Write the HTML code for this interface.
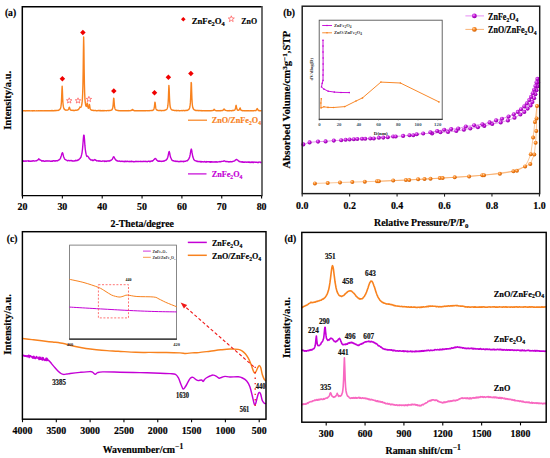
<!DOCTYPE html>
<html><head><meta charset="utf-8"><style>
html,body{margin:0;padding:0;background:#fff;width:550px;height:458px;overflow:hidden}
svg{display:block}
text{font-family:"Liberation Serif",serif;stroke-width:0.18px}
</style></head><body>
<svg width="550" height="458" viewBox="0 0 550 458">
<defs>
<radialGradient id="gp" cx="0.38" cy="0.35" r="0.7"><stop offset="0" stop-color="#F2A8FA"/><stop offset="0.45" stop-color="#C010D8"/><stop offset="1" stop-color="#8A009E"/></radialGradient>
<radialGradient id="go" cx="0.38" cy="0.35" r="0.7"><stop offset="0" stop-color="#FFD6A8"/><stop offset="0.45" stop-color="#F8841E"/><stop offset="1" stop-color="#C85A00"/></radialGradient>
</defs>
<path d="M22.9,110.71 L23.15,110.8 L23.4,110.75 L23.65,110.82 L23.9,110.82 L24.15,110.66 L24.4,110.64 L24.65,110.89 L24.9,110.71 L25.15,110.71 L25.4,110.93 L25.65,110.78 L25.9,110.89 L26.15,110.78 L26.4,110.83 L26.65,110.68 L26.9,110.82 L27.15,110.89 L27.4,110.79 L27.65,110.86 L27.9,110.83 L28.15,110.65 L28.4,110.86 L28.65,110.81 L28.9,110.72 L29.15,110.64 L29.4,110.89 L29.65,110.77 L29.9,110.85 L30.15,110.9 L30.4,110.85 L30.65,110.91 L30.9,110.75 L31.15,110.87 L31.4,110.76 L31.65,110.91 L31.9,110.89 L32.15,110.66 L32.4,110.67 L32.65,110.69 L32.9,110.92 L33.15,110.76 L33.4,110.82 L33.65,110.72 L33.9,110.78 L34.15,110.74 L34.4,110.73 L34.65,110.8 L34.9,110.8 L35.15,110.9 L35.4,110.83 L35.65,110.9 L35.9,110.88 L36.15,110.92 L36.4,110.83 L36.65,110.67 L36.9,110.88 L37.15,110.91 L37.4,110.89 L37.65,110.79 L37.9,110.84 L38.15,110.68 L38.4,110.87 L38.65,110.79 L38.9,110.71 L39.15,110.64 L39.4,110.88 L39.65,110.92 L39.9,110.64 L40.15,110.86 L40.4,110.74 L40.65,110.66 L40.9,110.7 L41.15,110.85 L41.4,110.88 L41.65,110.63 L41.9,110.8 L42.15,110.63 L42.4,110.83 L42.65,110.71 L42.9,110.88 L43.15,110.9 L43.4,110.76 L43.65,110.91 L43.9,110.7 L44.15,110.63 L44.4,110.79 L44.65,110.61 L44.9,110.66 L45.15,110.73 L45.4,110.78 L45.65,110.65 L45.9,110.61 L46.15,110.86 L46.4,110.69 L46.65,110.88 L46.9,110.86 L47.15,110.71 L47.4,110.73 L47.65,110.75 L47.9,110.78 L48.15,110.77 L48.4,110.75 L48.65,110.77 L48.9,110.86 L49.15,110.73 L49.4,110.71 L49.65,110.79 L49.9,110.64 L50.15,110.66 L50.4,110.86 L50.65,110.72 L50.9,110.73 L51.15,110.56 L51.4,110.68 L51.65,110.73 L51.9,110.55 L52.15,110.73 L52.4,110.73 L52.65,110.55 L52.9,110.72 L53.15,110.66 L53.4,110.72 L53.65,110.62 L53.9,110.72 L54.15,110.72 L54.4,110.5 L54.65,110.5 L54.9,110.67 L55.15,110.75 L55.4,110.52 L55.65,110.57 L55.9,110.6 L56.15,110.5 L56.4,110.49 L56.65,110.46 L56.9,110.45 L57.15,110.49 L57.4,110.37 L57.65,110.35 L57.9,110.43 L58.15,110.15 L58.4,110.25 L58.65,110.23 L58.9,110.01 L59.15,109.86 L59.4,109.89 L59.65,109.53 L59.9,109.26 L60.15,109 L60.4,108.59 L60.65,107.71 L60.9,106.71 L61.15,104.99 L61.4,102.27 L61.65,97.31 L61.9,90.54 L62.15,86.12 L62.4,90.34 L62.65,97.32 L62.9,102.24 L63.15,104.99 L63.4,106.64 L63.65,107.68 L63.9,108.49 L64.15,108.87 L64.4,109.39 L64.65,109.64 L64.9,109.62 L65.15,109.79 L65.4,110.05 L65.65,110.08 L65.9,110.19 L66.15,110.09 L66.4,110.06 L66.65,110.12 L66.9,110.27 L67.15,110.1 L67.4,110.09 L67.65,110.04 L67.9,109.93 L68.15,109.75 L68.4,109.61 L68.65,108.9 L68.9,108.1 L69.15,107.52 L69.4,107.3 L69.65,108.05 L69.9,108.75 L70.15,109.5 L70.4,109.86 L70.65,109.88 L70.9,110.18 L71.15,110.31 L71.4,110.32 L71.65,110.33 L71.9,110.29 L72.15,110.33 L72.4,110.31 L72.65,110.28 L72.9,110.44 L73.15,110.35 L73.4,110.51 L73.65,110.27 L73.9,110.53 L74.15,110.46 L74.4,110.51 L74.65,110.49 L74.9,110.48 L75.15,110.36 L75.4,110.17 L75.65,110.37 L75.9,110.17 L76.15,110.18 L76.4,110.25 L76.65,110.16 L76.9,110.08 L77.15,110.18 L77.4,110.01 L77.65,109.84 L77.9,109.71 L78.15,109.76 L78.4,109.48 L78.65,109.35 L78.9,108.92 L79.15,108.48 L79.4,108.07 L79.65,107.63 L79.9,107.1 L80.15,107.26 L80.4,107.41 L80.65,107.41 L80.9,107.26 L81.15,106.65 L81.4,106.24 L81.65,105.4 L81.9,103.82 L82.15,101.9 L82.4,98.83 L82.65,93.98 L82.9,85.68 L83.15,71.72 L83.4,51.4 L83.65,37 L83.9,47.88 L84.15,68.73 L84.4,83.81 L84.65,92.77 L84.9,98.36 L85.15,101.6 L85.4,103.46 L85.65,104.96 L85.9,105.79 L86.15,106.29 L86.4,106.42 L86.65,106.1 L86.9,104.85 L87.15,103.03 L87.4,103.4 L87.65,105.6 L87.9,107.02 L88.15,107.88 L88.4,108.18 L88.65,107.95 L88.9,107.2 L89.15,105.79 L89.4,104.36 L89.65,105.4 L89.9,107.37 L90.15,108.46 L90.4,109.24 L90.65,109.57 L90.9,109.75 L91.15,109.9 L91.4,110.05 L91.65,110.2 L91.9,110.18 L92.15,110.32 L92.4,110.3 L92.65,110.27 L92.9,110.39 L93.15,110.47 L93.4,110.31 L93.65,110.43 L93.9,110.45 L94.15,110.61 L94.4,110.64 L94.65,110.49 L94.9,110.66 L95.15,110.64 L95.4,110.49 L95.65,110.56 L95.9,110.47 L96.15,110.68 L96.4,110.64 L96.65,110.72 L96.9,110.7 L97.15,110.67 L97.4,110.69 L97.65,110.65 L97.9,110.51 L98.15,110.66 L98.4,110.49 L98.65,110.54 L98.9,110.73 L99.15,110.52 L99.4,110.54 L99.65,110.54 L99.9,110.78 L100.15,110.57 L100.4,110.53 L100.65,110.77 L100.9,110.56 L101.15,110.78 L101.4,110.73 L101.65,110.78 L101.9,110.82 L102.15,110.7 L102.4,110.77 L102.65,110.54 L102.9,110.76 L103.15,110.69 L103.4,110.75 L103.65,110.57 L103.9,110.76 L104.15,110.81 L104.4,110.55 L104.65,110.63 L104.9,110.7 L105.15,110.78 L105.4,110.6 L105.65,110.58 L105.9,110.6 L106.15,110.7 L106.4,110.74 L106.65,110.63 L106.9,110.62 L107.15,110.62 L107.4,110.6 L107.65,110.61 L107.9,110.51 L108.15,110.62 L108.4,110.75 L108.65,110.57 L108.9,110.66 L109.15,110.46 L109.4,110.6 L109.65,110.6 L109.9,110.54 L110.15,110.46 L110.4,110.41 L110.65,110.4 L110.9,110.41 L111.15,110.1 L111.4,109.96 L111.65,110 L111.9,109.83 L112.15,109.4 L112.4,108.9 L112.65,108.25 L112.9,106.87 L113.15,104.82 L113.4,101.52 L113.65,98.26 L113.9,98.53 L114.15,102.08 L114.4,105.33 L114.65,107.33 L114.9,108.26 L115.15,109.07 L115.4,109.43 L115.65,109.86 L115.9,109.99 L116.15,110.04 L116.4,110.14 L116.65,110.17 L116.9,110.37 L117.15,110.4 L117.4,110.38 L117.65,110.47 L117.9,110.49 L118.15,110.65 L118.4,110.48 L118.65,110.75 L118.9,110.61 L119.15,110.66 L119.4,110.63 L119.65,110.75 L119.9,110.76 L120.15,110.69 L120.4,110.67 L120.65,110.75 L120.9,110.8 L121.15,110.67 L121.4,110.77 L121.65,110.84 L121.9,110.7 L122.15,110.63 L122.4,110.63 L122.65,110.78 L122.9,110.77 L123.15,110.86 L123.4,110.83 L123.65,110.65 L123.9,110.63 L124.15,110.66 L124.4,110.64 L124.65,110.79 L124.9,110.84 L125.15,110.85 L125.4,110.66 L125.65,110.84 L125.9,110.68 L126.15,110.71 L126.4,110.8 L126.65,110.61 L126.9,110.61 L127.15,110.83 L127.4,110.67 L127.65,110.69 L127.9,110.75 L128.15,110.78 L128.4,110.58 L128.65,110.67 L128.9,110.7 L129.15,110.71 L129.4,110.62 L129.65,110.72 L129.9,110.82 L130.15,110.64 L130.4,110.67 L130.65,110.51 L130.9,110.52 L131.15,110.58 L131.4,110.32 L131.65,110.4 L131.9,110.17 L132.15,109.57 L132.4,109.52 L132.65,109.42 L132.9,109.9 L133.15,110.21 L133.4,110.28 L133.65,110.52 L133.9,110.6 L134.15,110.69 L134.4,110.57 L134.65,110.74 L134.9,110.82 L135.15,110.75 L135.4,110.72 L135.65,110.6 L135.9,110.72 L136.15,110.68 L136.4,110.8 L136.65,110.79 L136.9,110.76 L137.15,110.64 L137.4,110.79 L137.65,110.78 L137.9,110.65 L138.15,110.86 L138.4,110.79 L138.65,110.64 L138.9,110.88 L139.15,110.64 L139.4,110.7 L139.65,110.82 L139.9,110.78 L140.15,110.77 L140.4,110.8 L140.65,110.74 L140.9,110.69 L141.15,110.65 L141.4,110.62 L141.65,110.82 L141.9,110.83 L142.15,110.76 L142.4,110.82 L142.65,110.71 L142.9,110.68 L143.15,110.71 L143.4,110.86 L143.65,110.61 L143.9,110.75 L144.15,110.67 L144.4,110.82 L144.65,110.7 L144.9,110.69 L145.15,110.71 L145.4,110.75 L145.65,110.82 L145.9,110.69 L146.15,110.84 L146.4,110.61 L146.65,110.66 L146.9,110.6 L147.15,110.61 L147.4,110.8 L147.65,110.78 L147.9,110.62 L148.15,110.61 L148.4,110.68 L148.65,110.77 L148.9,110.79 L149.15,110.76 L149.4,110.71 L149.65,110.56 L149.9,110.63 L150.15,110.56 L150.4,110.64 L150.65,110.64 L150.9,110.51 L151.15,110.51 L151.4,110.64 L151.65,110.39 L151.9,110.58 L152.15,110.56 L152.4,110.51 L152.65,110.26 L152.9,110.2 L153.15,110.06 L153.4,109.86 L153.65,109.64 L153.9,109.05 L154.15,108.1 L154.4,106.85 L154.65,104.49 L154.9,102.26 L155.15,102.61 L155.4,104.82 L155.65,107.14 L155.9,108.39 L156.15,109.09 L156.4,109.56 L156.65,109.84 L156.9,109.96 L157.15,110.2 L157.4,110.15 L157.65,110.36 L157.9,110.46 L158.15,110.44 L158.4,110.51 L158.65,110.65 L158.9,110.65 L159.15,110.44 L159.4,110.65 L159.65,110.61 L159.9,110.44 L160.15,110.54 L160.4,110.51 L160.65,110.46 L160.9,110.6 L161.15,110.71 L161.4,110.53 L161.65,110.69 L161.9,110.63 L162.15,110.45 L162.4,110.66 L162.65,110.57 L162.9,110.66 L163.15,110.58 L163.4,110.57 L163.65,110.43 L163.9,110.54 L164.15,110.55 L164.4,110.49 L164.65,110.32 L164.9,110.37 L165.15,110.23 L165.4,110.04 L165.65,109.93 L165.9,109.83 L166.15,109.72 L166.4,109.52 L166.65,109.38 L166.9,109.1 L167.15,108.59 L167.4,107.88 L167.65,106.93 L167.9,105.2 L168.15,102.55 L168.4,98.06 L168.65,91.04 L168.9,85.36 L169.15,88.39 L169.4,95.59 L169.65,101.01 L169.9,104.33 L170.15,106.35 L170.4,107.59 L170.65,108.27 L170.9,108.73 L171.15,109.18 L171.4,109.62 L171.65,109.64 L171.9,109.89 L172.15,109.94 L172.4,110.04 L172.65,110.11 L172.9,110.24 L173.15,110.23 L173.4,110.23 L173.65,110.3 L173.9,110.35 L174.15,110.47 L174.4,110.37 L174.65,110.38 L174.9,110.52 L175.15,110.53 L175.4,110.63 L175.65,110.45 L175.9,110.56 L176.15,110.57 L176.4,110.47 L176.65,110.76 L176.9,110.54 L177.15,110.51 L177.4,110.63 L177.65,110.54 L177.9,110.68 L178.15,110.6 L178.4,110.54 L178.65,110.52 L178.9,110.72 L179.15,110.59 L179.4,110.74 L179.65,110.65 L179.9,110.79 L180.15,110.6 L180.4,110.58 L180.65,110.58 L180.9,110.75 L181.15,110.69 L181.4,110.6 L181.65,110.52 L181.9,110.7 L182.15,110.78 L182.4,110.66 L182.65,110.48 L182.9,110.48 L183.15,110.49 L183.4,110.51 L183.65,110.46 L183.9,110.46 L184.15,110.63 L184.4,110.69 L184.65,110.47 L184.9,110.68 L185.15,110.52 L185.4,110.6 L185.65,110.61 L185.9,110.59 L186.15,110.29 L186.4,110.33 L186.65,110.39 L186.9,110.44 L187.15,110.13 L187.4,110.12 L187.65,110.21 L187.9,109.89 L188.15,109.85 L188.4,109.67 L188.65,109.58 L188.9,109.39 L189.15,108.81 L189.4,108.48 L189.65,107.78 L189.9,106.75 L190.15,105.01 L190.4,102.4 L190.65,97.62 L190.9,90.26 L191.15,82.42 L191.4,83.04 L191.65,90.98 L191.9,98.07 L192.15,102.46 L192.4,105.24 L192.65,106.79 L192.9,107.84 L193.15,108.43 L193.4,108.94 L193.65,109.19 L193.9,109.61 L194.15,109.6 L194.4,109.89 L194.65,110.1 L194.9,110.17 L195.15,110.08 L195.4,110.19 L195.65,110.43 L195.9,110.41 L196.15,110.52 L196.4,110.56 L196.65,110.46 L196.9,110.62 L197.15,110.59 L197.4,110.5 L197.65,110.52 L197.9,110.45 L198.15,110.56 L198.4,110.74 L198.65,110.5 L198.9,110.65 L199.15,110.52 L199.4,110.52 L199.65,110.7 L199.9,110.58 L200.15,110.53 L200.4,110.57 L200.65,110.72 L200.9,110.71 L201.15,110.54 L201.4,110.61 L201.65,110.84 L201.9,110.62 L202.15,110.72 L202.4,110.68 L202.65,110.8 L202.9,110.75 L203.15,110.8 L203.4,110.73 L203.65,110.63 L203.9,110.63 L204.15,110.6 L204.4,110.82 L204.65,110.61 L204.9,110.59 L205.15,110.87 L205.4,110.64 L205.65,110.85 L205.9,110.61 L206.15,110.72 L206.4,110.65 L206.65,110.84 L206.9,110.77 L207.15,110.78 L207.4,110.82 L207.65,110.85 L207.9,110.69 L208.15,110.77 L208.4,110.72 L208.65,110.62 L208.9,110.83 L209.15,110.76 L209.4,110.82 L209.65,110.64 L209.9,110.74 L210.15,110.71 L210.4,110.78 L210.65,110.58 L210.9,110.66 L211.15,110.69 L211.4,110.55 L211.65,110.68 L211.9,110.72 L212.15,110.6 L212.4,110.63 L212.65,110.57 L212.9,110.38 L213.15,110.31 L213.4,110.33 L213.65,109.89 L213.9,109.62 L214.15,109.34 L214.4,109.5 L214.65,109.77 L214.9,110.26 L215.15,110.39 L215.4,110.55 L215.65,110.67 L215.9,110.61 L216.15,110.74 L216.4,110.65 L216.65,110.64 L216.9,110.81 L217.15,110.81 L217.4,110.83 L217.65,110.7 L217.9,110.79 L218.15,110.68 L218.4,110.86 L218.65,110.84 L218.9,110.65 L219.15,110.84 L219.4,110.62 L219.65,110.59 L219.9,110.77 L220.15,110.64 L220.4,110.7 L220.65,110.73 L220.9,110.54 L221.15,110.74 L221.4,110.58 L221.65,110.61 L221.9,110.56 L222.15,110.64 L222.4,110.59 L222.65,110.38 L222.9,110.21 L223.15,110.11 L223.4,109.89 L223.65,109.43 L223.9,109.05 L224.15,109.04 L224.4,109.24 L224.65,109.73 L224.9,110.08 L225.15,110.29 L225.4,110.3 L225.65,110.34 L225.9,110.46 L226.15,110.56 L226.4,110.61 L226.65,110.64 L226.9,110.61 L227.15,110.77 L227.4,110.61 L227.65,110.68 L227.9,110.81 L228.15,110.79 L228.4,110.64 L228.65,110.63 L228.9,110.8 L229.15,110.56 L229.4,110.6 L229.65,110.72 L229.9,110.72 L230.15,110.61 L230.4,110.57 L230.65,110.61 L230.9,110.78 L231.15,110.68 L231.4,110.83 L231.65,110.76 L231.9,110.81 L232.15,110.52 L232.4,110.55 L232.65,110.48 L232.9,110.58 L233.15,110.53 L233.4,110.41 L233.65,110.51 L233.9,110.31 L234.15,110.3 L234.4,110.16 L234.65,110.15 L234.9,109.77 L235.15,109.29 L235.4,108.5 L235.65,107.41 L235.9,105.9 L236.15,105.34 L236.4,106.64 L236.65,108.09 L236.9,108.89 L237.15,109.42 L237.4,109.94 L237.65,110.15 L237.9,110.18 L238.15,110.34 L238.4,110.28 L238.65,110.17 L238.9,110.06 L239.15,109.84 L239.4,109.7 L239.65,109.17 L239.9,108.32 L240.15,107.93 L240.4,108.76 L240.65,109.62 L240.9,110.05 L241.15,110.25 L241.4,110.35 L241.65,110.48 L241.9,110.44 L242.15,110.49 L242.4,110.68 L242.65,110.79 L242.9,110.68 L243.15,110.65 L243.4,110.65 L243.65,110.69 L243.9,110.8 L244.15,110.7 L244.4,110.86 L244.65,110.63 L244.9,110.68 L245.15,110.75 L245.4,110.72 L245.65,110.85 L245.9,110.85 L246.15,110.88 L246.4,110.79 L246.65,110.61 L246.9,110.78 L247.15,110.77 L247.4,110.75 L247.65,110.69 L247.9,110.82 L248.15,110.88 L248.4,110.64 L248.65,110.81 L248.9,110.72 L249.15,110.77 L249.4,110.88 L249.65,110.9 L249.9,110.81 L250.15,110.67 L250.4,110.89 L250.65,110.66 L250.9,110.72 L251.15,110.86 L251.4,110.7 L251.65,110.69 L251.9,110.89 L252.15,110.88 L252.4,110.69 L252.65,110.71 L252.9,110.68 L253.15,110.63 L253.4,110.66 L253.65,110.87 L253.9,110.59 L254.15,110.62 L254.4,110.6 L254.65,110.55 L254.9,110.66 L255.15,110.69 L255.4,110.67 L255.65,110.54 L255.9,110.5 L256.15,110.11 L256.4,109.95 L256.65,109.76 L256.9,108.94 L257.15,108.55 L257.4,108.77 L257.65,109.27 L257.9,109.85 L258.15,110.01 L258.4,110.26 L258.65,110.6 L258.9,110.43 L259.15,110.72 L259.4,110.54 L259.65,110.81 L259.9,110.74 L260.15,110.75 L260.4,110.61 L260.65,110.59 L260.9,110.81 L261.15,110.64 L261.4,110.65" fill="none" stroke="#F8821E" stroke-width="1.4" stroke-linejoin="round" stroke-linecap="round" />
<path d="M22.9,161.26 L23.3,161.29 L23.7,160.8 L24.1,161.34 L24.5,161.09 L24.9,161 L25.3,160.83 L25.7,161 L26.1,161.36 L26.5,160.94 L26.9,160.85 L27.3,160.85 L27.7,160.84 L28.1,160.98 L28.5,161.31 L28.9,160.81 L29.3,160.88 L29.7,161.32 L30.1,161.35 L30.5,161.34 L30.9,160.9 L31.3,160.96 L31.7,161.31 L32.1,161.03 L32.5,161.15 L32.9,160.91 L33.3,160.72 L33.7,160.9 L34.1,161.12 L34.5,161.12 L34.9,160.96 L35.3,160.86 L35.7,160.85 L36.1,160.72 L36.5,160.67 L36.9,160.7 L37.3,160.1 L37.7,160.01 L38.1,159.78 L38.5,159.28 L38.9,158.72 L39.3,159.47 L39.7,159.86 L40.1,159.87 L40.5,160.22 L40.9,160.38 L41.3,160.42 L41.7,161.07 L42.1,160.79 L42.5,161.12 L42.9,160.7 L43.3,160.67 L43.7,161.2 L44.1,161.17 L44.5,161.31 L44.9,161.13 L45.3,161.04 L45.7,161.19 L46.1,160.8 L46.5,161.07 L46.9,161.01 L47.3,160.84 L47.7,161.11 L48.1,160.94 L48.5,161.05 L48.9,160.97 L49.3,160.93 L49.7,160.95 L50.1,161.1 L50.5,161.32 L50.9,161.28 L51.3,161.23 L51.7,161.21 L52.1,160.87 L52.5,161.27 L52.9,160.84 L53.3,160.73 L53.7,160.94 L54.1,161.06 L54.5,160.8 L54.9,160.96 L55.3,160.71 L55.7,161.08 L56.1,160.73 L56.5,160.69 L56.9,160.66 L57.3,160.78 L57.7,160.75 L58.1,160.35 L58.5,160.14 L58.9,160.03 L59.3,159.42 L59.7,159.26 L60.1,159 L60.5,158.23 L60.9,156.79 L61.3,155.93 L61.7,154.09 L62.1,153.21 L62.5,152.67 L62.9,153.62 L63.3,155.36 L63.7,156.97 L64.1,157.79 L64.5,158.83 L64.9,159.3 L65.3,159.49 L65.7,159.75 L66.1,160.09 L66.5,160.19 L66.9,160.3 L67.3,160.57 L67.7,160.78 L68.1,160.67 L68.5,160.46 L68.9,160.54 L69.3,160.66 L69.7,160.83 L70.1,160.56 L70.5,160.54 L70.9,160.69 L71.3,160.68 L71.7,160.52 L72.1,160.83 L72.5,161.05 L72.9,160.8 L73.3,160.91 L73.7,160.95 L74.1,160.93 L74.5,160.94 L74.9,160.63 L75.3,160.73 L75.7,160.34 L76.1,160.74 L76.5,160.37 L76.9,160.35 L77.3,160.5 L77.7,160.02 L78.1,159.82 L78.5,160.03 L78.9,159.68 L79.3,159.1 L79.7,158.72 L80.1,158.47 L80.5,157.68 L80.9,157.39 L81.3,155.91 L81.7,154.42 L82.1,152.26 L82.5,149.1 L82.9,144.53 L83.3,139.22 L83.7,135.14 L84.1,135.37 L84.5,139.62 L84.9,145.43 L85.3,149.48 L85.7,152.04 L86.1,154.18 L86.5,155.59 L86.9,156.44 L87.3,156.22 L87.7,156.28 L88.1,156.68 L88.5,157.02 L88.9,157.92 L89.3,158.54 L89.7,158.8 L90.1,159.28 L90.5,159.7 L90.9,160.11 L91.3,159.88 L91.7,160.12 L92.1,160.03 L92.5,160.42 L92.9,160.06 L93.3,160.58 L93.7,160.24 L94.1,160.11 L94.5,159.61 L94.9,159.56 L95.3,159.78 L95.7,160.27 L96.1,160.36 L96.5,160.42 L96.9,160.99 L97.3,160.9 L97.7,160.9 L98.1,160.76 L98.5,160.87 L98.9,161.26 L99.3,160.83 L99.7,161.1 L100.1,161.17 L100.5,161.03 L100.9,161.29 L101.3,161.39 L101.7,161.37 L102.1,161.3 L102.5,160.99 L102.9,160.91 L103.3,161.14 L103.7,161.07 L104.1,161 L104.5,161.4 L104.9,161.01 L105.3,161.37 L105.7,161.43 L106.1,160.94 L106.5,161.4 L106.9,161.08 L107.3,160.95 L107.7,160.92 L108.1,160.8 L108.5,161.04 L108.9,160.93 L109.3,161.16 L109.7,161.08 L110.1,160.52 L110.5,160.6 L110.9,160.43 L111.3,160.08 L111.7,159.8 L112.1,159.36 L112.5,159.01 L112.9,158.02 L113.3,157.09 L113.7,156.73 L114.1,157.12 L114.5,157.93 L114.9,158.55 L115.3,159.5 L115.7,159.7 L116.1,160.33 L116.5,160.55 L116.9,160.48 L117.3,160.96 L117.7,160.86 L118.1,161.03 L118.5,161.13 L118.9,161.2 L119.3,161.13 L119.7,160.93 L120.1,161.4 L120.5,161.47 L120.9,161.27 L121.3,161.34 L121.7,161.18 L122.1,161.57 L122.5,161.45 L122.9,161.19 L123.3,161.56 L123.7,161.67 L124.1,161.29 L124.5,161.69 L124.9,161.39 L125.3,161.22 L125.7,161.55 L126.1,161.32 L126.5,161.57 L126.9,161.48 L127.3,161.2 L127.7,161.46 L128.1,161.66 L128.5,161.44 L128.9,161.48 L129.3,161.68 L129.7,161.43 L130.1,161.46 L130.5,161.52 L130.9,161.67 L131.3,161.3 L131.7,161.24 L132.1,161.64 L132.5,161.52 L132.9,161.37 L133.3,161.73 L133.7,161.73 L134.1,161.52 L134.5,161.79 L134.9,161.71 L135.3,161.65 L135.7,161.38 L136.1,161.22 L136.5,161.62 L136.9,161.65 L137.3,161.43 L137.7,161.5 L138.1,161.56 L138.5,161.37 L138.9,161.64 L139.3,161.56 L139.7,161.45 L140.1,161.29 L140.5,161.56 L140.9,161.42 L141.3,161.66 L141.7,161.33 L142.1,161.46 L142.5,161.34 L142.9,161.47 L143.3,161.57 L143.7,161.29 L144.1,161.25 L144.5,161.51 L144.9,161.34 L145.3,161.51 L145.7,161.31 L146.1,161.26 L146.5,161.52 L146.9,161.74 L147.3,161.7 L147.7,161.48 L148.1,161.4 L148.5,161.19 L148.9,161.3 L149.3,161.3 L149.7,161.65 L150.1,161.13 L150.5,161.59 L150.9,161.26 L151.3,161.17 L151.7,160.99 L152.1,161.31 L152.5,160.7 L152.9,160.74 L153.3,160.43 L153.7,159.87 L154.1,159.38 L154.5,159.23 L154.9,158.6 L155.3,158.43 L155.7,158.89 L156.1,158.99 L156.5,159.91 L156.9,160.38 L157.3,160.37 L157.7,160.73 L158.1,161.2 L158.5,160.93 L158.9,161.27 L159.3,160.97 L159.7,161.31 L160.1,161.1 L160.5,161.26 L160.9,161.18 L161.3,161.48 L161.7,161.4 L162.1,161.24 L162.5,161.32 L162.9,161.14 L163.3,161.32 L163.7,160.93 L164.1,161.03 L164.5,160.96 L164.9,160.72 L165.3,160.35 L165.7,160.21 L166.1,160.2 L166.5,159.55 L166.9,159.32 L167.3,158.36 L167.7,157.48 L168.1,155.83 L168.5,153.81 L168.9,151.96 L169.3,151.55 L169.7,153.25 L170.1,155.33 L170.5,157.14 L170.9,157.97 L171.3,158.82 L171.7,159.93 L172.1,160.22 L172.5,160.38 L172.9,160.77 L173.3,160.6 L173.7,160.97 L174.1,161.16 L174.5,161.21 L174.9,161.01 L175.3,161.05 L175.7,161.39 L176.1,161.59 L176.5,161.17 L176.9,161.12 L177.3,161.19 L177.7,161.63 L178.1,161.41 L178.5,161.46 L178.9,161.79 L179.3,161.57 L179.7,161.36 L180.1,161.63 L180.5,161.21 L180.9,161.37 L181.3,161.62 L181.7,161.29 L182.1,161.2 L182.5,161.48 L182.9,161.35 L183.3,161.71 L183.7,161.16 L184.1,161.55 L184.5,161.26 L184.9,161.46 L185.3,161.18 L185.7,161.24 L186.1,160.94 L186.5,160.77 L186.9,160.76 L187.3,160.77 L187.7,160.25 L188.1,159.85 L188.5,159.51 L188.9,158.68 L189.3,157.91 L189.7,156.77 L190.1,154.93 L190.5,152.61 L190.9,150.13 L191.3,149.07 L191.7,150.33 L192.1,152.91 L192.5,155.11 L192.9,157.06 L193.3,158.1 L193.7,159.25 L194.1,159.76 L194.5,160.23 L194.9,160.6 L195.3,160.72 L195.7,160.85 L196.1,160.93 L196.5,160.9 L196.9,161.44 L197.3,161.34 L197.7,161.17 L198.1,161.72 L198.5,161.56 L198.9,161.63 L199.3,161.55 L199.7,161.4 L200.1,161.95 L200.5,161.47 L200.9,161.61 L201.3,162.01 L201.7,161.5 L202.1,161.75 L202.5,161.75 L202.9,161.62 L203.3,162.04 L203.7,161.75 L204.1,161.51 L204.5,161.8 L204.9,161.53 L205.3,161.96 L205.7,162.06 L206.1,162.09 L206.5,161.58 L206.9,161.97 L207.3,161.75 L207.7,161.86 L208.1,161.76 L208.5,161.77 L208.9,161.67 L209.3,161.97 L209.7,161.65 L210.1,162.18 L210.5,161.63 L210.9,162.19 L211.3,161.73 L211.7,161.66 L212.1,162.06 L212.5,161.94 L212.9,162.08 L213.3,161.93 L213.7,162 L214.1,161.67 L214.5,162.03 L214.9,161.93 L215.3,162.2 L215.7,161.62 L216.1,161.66 L216.5,162.02 L216.9,162.17 L217.3,161.86 L217.7,162.03 L218.1,161.93 L218.5,161.81 L218.9,161.84 L219.3,161.91 L219.7,161.54 L220.1,161.68 L220.5,161.9 L220.9,161.56 L221.3,161.63 L221.7,161.41 L222.1,161.37 L222.5,161.41 L222.9,161.32 L223.3,161.33 L223.7,160.98 L224.1,160.86 L224.5,161.05 L224.9,161.02 L225.3,161.26 L225.7,161.58 L226.1,161.68 L226.5,161.53 L226.9,161.54 L227.3,161.53 L227.7,161.6 L228.1,161.81 L228.5,161.68 L228.9,162.06 L229.3,161.87 L229.7,161.73 L230.1,161.77 L230.5,161.52 L230.9,161.91 L231.3,161.9 L231.7,161.62 L232.1,161.79 L232.5,161.46 L232.9,161.34 L233.3,161.24 L233.7,161.08 L234.1,161.15 L234.5,160.95 L234.9,160.71 L235.3,160.01 L235.7,160.06 L236.1,159.61 L236.5,159.45 L236.9,159.64 L237.3,159.88 L237.7,160.1 L238.1,160.55 L238.5,160.99 L238.9,161.27 L239.3,161.57 L239.7,161.29 L240.1,161.82 L240.5,161.85 L240.9,161.87 L241.3,162.09 L241.7,161.64 L242.1,162.06 L242.5,162.17 L242.9,161.73 L243.3,162.04 L243.7,162.27 L244.1,161.9 L244.5,162.25 L244.9,162.3 L245.3,162.03 L245.7,161.87 L246.1,161.92 L246.5,162.3 L246.9,162.07 L247.3,162.01 L247.7,162.09 L248.1,162.39 L248.5,161.99 L248.9,161.86 L249.3,162.42 L249.7,162.05 L250.1,162.1 L250.5,162.46 L250.9,162.05 L251.3,161.93 L251.7,162.42 L252.1,162.04 L252.5,162.03 L252.9,162.46 L253.3,162.04 L253.7,162.45 L254.1,162.11 L254.5,162.1 L254.9,162.05 L255.3,162.25 L255.7,162.26 L256.1,162.17 L256.5,162.24 L256.9,162.11 L257.3,162.44 L257.7,162.5 L258.1,162.4 L258.5,162.44 L258.9,161.99 L259.3,162.1 L259.7,162.08 L260.1,162.05 L260.5,162.54 L260.9,162.51 L261.3,162.52" fill="none" stroke="#C400D6" stroke-width="1.4" stroke-linejoin="round" stroke-linecap="round" />
<path d="M62.4,75.95 L65.15,78.7 L62.4,81.45 L59.65,78.7 Z" fill="#F00000"/>
<path d="M82.9,29.65 L85.65,32.4 L82.9,35.15 L80.15,32.4 Z" fill="#F00000"/>
<path d="M113.8,88.25 L116.55,91 L113.8,93.75 L111.05,91 Z" fill="#F00000"/>
<path d="M154.5,89.95 L157.25,92.7 L154.5,95.45 L151.75,92.7 Z" fill="#F00000"/>
<path d="M168.4,74.55 L171.15,77.3 L168.4,80.05 L165.65,77.3 Z" fill="#F00000"/>
<path d="M190.9,70.65 L193.65,73.4 L190.9,76.15 L188.15,73.4 Z" fill="#F00000"/>
<path d="M69.2,97.8 L69.92,99.71 L71.96,99.8 L70.36,101.08 L70.9,103.05 L69.2,101.92 L67.5,103.05 L68.04,101.08 L66.44,99.8 L68.48,99.71 Z" fill="none" stroke="#FF5A5A" stroke-width="0.75"/>
<path d="M78,97.8 L78.72,99.71 L80.76,99.8 L79.16,101.08 L79.7,103.05 L78,101.92 L76.3,103.05 L76.84,101.08 L75.24,99.8 L77.28,99.71 Z" fill="none" stroke="#FF5A5A" stroke-width="0.75"/>
<path d="M88.9,96.4 L89.62,98.31 L91.66,98.4 L90.06,99.68 L90.6,101.65 L88.9,100.52 L87.2,101.65 L87.74,99.68 L86.14,98.4 L88.18,98.31 Z" fill="none" stroke="#FF5A5A" stroke-width="0.75"/>
<path d="M183.3,16.9 L185.6,19.2 L183.3,21.5 L181,19.2 Z" fill="#F00000"/>
<text x="191.7" y="23.8" font-size="9" text-anchor="start" fill="#000" font-weight="bold" textLength="33.1" lengthAdjust="spacingAndGlyphs"  stroke="#000">ZnFe<tspan dy="2.6" font-size="6.6">2</tspan><tspan dy="-2.6">O</tspan><tspan dy="2.6" font-size="6.6">4</tspan></text>
<path d="M231.3,15.8 L232.09,17.91 L234.34,18.01 L232.58,19.42 L233.18,21.59 L231.3,20.34 L229.42,21.59 L230.02,19.42 L228.26,18.01 L230.51,17.91 Z" fill="none" stroke="#FF5A5A" stroke-width="0.75"/>
<text x="241.3" y="24.1" font-size="9" text-anchor="start" fill="#000" font-weight="bold" textLength="15.8" lengthAdjust="spacingAndGlyphs"  stroke="#000">ZnO</text>
<line x1="188" y1="120.2" x2="207" y2="120.2" stroke="#F8821E" stroke-width="1.2" />
<text x="211.7" y="123.3" font-size="8.2" text-anchor="start" fill="#F8821E" font-weight="bold"  stroke="#F8821E">ZnO/ZnFe<tspan dy="1.8" font-size="5.6">2</tspan><tspan dy="-1.8">O</tspan><tspan dy="1.8" font-size="5.6">4</tspan></text>
<line x1="188" y1="173.9" x2="206.5" y2="173.9" stroke="#C400D6" stroke-width="1.2" />
<text x="211.7" y="176.7" font-size="8.2" text-anchor="start" fill="#C400D6" font-weight="bold"  stroke="#C400D6">ZnFe<tspan dy="1.8" font-size="5.6">2</tspan><tspan dy="-1.8">O</tspan><tspan dy="1.8" font-size="5.6">4</tspan></text>
<line x1="22.3" y1="6.7" x2="262" y2="6.7" stroke="#000" stroke-width="1.45" />
<line x1="22.3" y1="195.6" x2="262" y2="195.6" stroke="#000" stroke-width="1.45" />
<line x1="22.3" y1="6" x2="22.3" y2="196.3" stroke="#000" stroke-width="1.5" />
<line x1="262" y1="6" x2="262" y2="196.3" stroke="#4a4a4a" stroke-width="1.6" />
<line x1="22.5" y1="195.6" x2="22.5" y2="198.6" stroke="#000" stroke-width="1.1" />
<text x="22.5" y="210.3" font-size="10.7" text-anchor="middle" fill="#000" font-weight="bold" textLength="9.9" lengthAdjust="spacingAndGlyphs"  stroke="#000">20</text>
<line x1="62.35" y1="195.6" x2="62.35" y2="198.6" stroke="#000" stroke-width="1.1" />
<text x="62.35" y="210.3" font-size="10.7" text-anchor="middle" fill="#000" font-weight="bold" textLength="9.9" lengthAdjust="spacingAndGlyphs"  stroke="#000">30</text>
<line x1="102.2" y1="195.6" x2="102.2" y2="198.6" stroke="#000" stroke-width="1.1" />
<text x="102.2" y="210.3" font-size="10.7" text-anchor="middle" fill="#000" font-weight="bold" textLength="9.9" lengthAdjust="spacingAndGlyphs"  stroke="#000">40</text>
<line x1="142.05" y1="195.6" x2="142.05" y2="198.6" stroke="#000" stroke-width="1.1" />
<text x="142.05" y="210.3" font-size="10.7" text-anchor="middle" fill="#000" font-weight="bold" textLength="9.9" lengthAdjust="spacingAndGlyphs"  stroke="#000">50</text>
<line x1="181.9" y1="195.6" x2="181.9" y2="198.6" stroke="#000" stroke-width="1.1" />
<text x="181.9" y="210.3" font-size="10.7" text-anchor="middle" fill="#000" font-weight="bold" textLength="9.9" lengthAdjust="spacingAndGlyphs"  stroke="#000">60</text>
<line x1="221.75" y1="195.6" x2="221.75" y2="198.6" stroke="#000" stroke-width="1.1" />
<text x="221.75" y="210.3" font-size="10.7" text-anchor="middle" fill="#000" font-weight="bold" textLength="9.9" lengthAdjust="spacingAndGlyphs"  stroke="#000">70</text>
<line x1="261.6" y1="195.6" x2="261.6" y2="198.6" stroke="#000" stroke-width="1.1" />
<text x="261.6" y="210.3" font-size="10.7" text-anchor="middle" fill="#000" font-weight="bold" textLength="9.9" lengthAdjust="spacingAndGlyphs"  stroke="#000">80</text>
<text x="142.2" y="227.4" font-size="9.9" text-anchor="middle" fill="#000" font-weight="bold" textLength="63.4" lengthAdjust="spacingAndGlyphs"  stroke="#000">2-Theta/degree</text>
<text transform="translate(10.6,100.3) rotate(-90)" font-size="10" text-anchor="middle" font-weight="bold" textLength="59" lengthAdjust="spacingAndGlyphs" stroke="#000">Intensity/a.u.</text>
<text x="10.5" y="16.3" font-size="9.6" text-anchor="middle" fill="#000" font-weight="bold"  stroke="#000">(a)</text>
<path d="M303.3,144.4 L309.6,142.4 L318,141.6 L325.6,141.4 L333.8,140.6 L341.2,140.3 L345.6,139.7 L349.6,139.5 L353.8,139.2 L357.3,139 L362,138.8 L365.2,138.8 L370.3,138.5 L373.8,138.5 L378.9,137.8 L383.3,137.6 L387.8,137.2 L393.2,136.5 L395.7,136.5 L403.1,135.9 L409.5,135.3 L413.3,135.3 L416.7,134.3 L423.2,133.5 L432.1,133.5 L440.4,132.3 L448,131.9 L456.3,131 L463.9,129.7 L470.3,128.5 L477.9,127.2 L484.3,125.9 L492.2,124 L500.7,122.4 L507.9,120.4 L514.5,117.8 L520.4,114.5 L524.3,111.9 L527.6,108.6 L530.6,105.4 L532.4,102.1 L534.1,98.2 L535.4,94.2 L536.5,90.3 L537.4,86.4 L538.1,82.4 L537.4,78.9" fill="none" stroke="#D050E0" stroke-width="0.6" stroke-linejoin="round" stroke-linecap="round" />
<path d="M537.4,78.9 L536.5,82.4 L535.4,86 L534.1,89.7 L532.8,93.3 L531.1,96.9 L529.3,100.1 L526.9,103.4 L524.3,106.4 L521,109.3 L517.8,111.9 L513.8,114.3 L508.6,116.5 L502,118.7 L496.1,120.4 L489.6,122.4 L482.4,124.3 L474.1,125.3 L465.8,126.5 L458.2,128.5 L451.2,129.1 L444.2,129.7 L437.2,131 L430.4,132.3" fill="none" stroke="#D050E0" stroke-width="0.6" stroke-linejoin="round" stroke-linecap="round" />
<circle cx="303.3" cy="144.4" r="2.05" fill="url(#gp)"/>
<circle cx="309.6" cy="142.4" r="2.05" fill="url(#gp)"/>
<circle cx="318" cy="141.6" r="2.05" fill="url(#gp)"/>
<circle cx="325.6" cy="141.4" r="2.05" fill="url(#gp)"/>
<circle cx="333.8" cy="140.6" r="2.05" fill="url(#gp)"/>
<circle cx="341.2" cy="140.3" r="2.05" fill="url(#gp)"/>
<circle cx="345.6" cy="139.7" r="2.05" fill="url(#gp)"/>
<circle cx="349.6" cy="139.5" r="2.05" fill="url(#gp)"/>
<circle cx="353.8" cy="139.2" r="2.05" fill="url(#gp)"/>
<circle cx="357.3" cy="139" r="2.05" fill="url(#gp)"/>
<circle cx="362" cy="138.8" r="2.05" fill="url(#gp)"/>
<circle cx="365.2" cy="138.8" r="2.05" fill="url(#gp)"/>
<circle cx="370.3" cy="138.5" r="2.05" fill="url(#gp)"/>
<circle cx="373.8" cy="138.5" r="2.05" fill="url(#gp)"/>
<circle cx="378.9" cy="137.8" r="2.05" fill="url(#gp)"/>
<circle cx="383.3" cy="137.6" r="2.05" fill="url(#gp)"/>
<circle cx="387.8" cy="137.2" r="2.05" fill="url(#gp)"/>
<circle cx="393.2" cy="136.5" r="2.05" fill="url(#gp)"/>
<circle cx="395.7" cy="136.5" r="2.05" fill="url(#gp)"/>
<circle cx="403.1" cy="135.9" r="2.05" fill="url(#gp)"/>
<circle cx="409.5" cy="135.3" r="2.05" fill="url(#gp)"/>
<circle cx="413.3" cy="135.3" r="2.05" fill="url(#gp)"/>
<circle cx="416.7" cy="134.3" r="2.05" fill="url(#gp)"/>
<circle cx="423.2" cy="133.5" r="2.05" fill="url(#gp)"/>
<circle cx="432.1" cy="133.5" r="2.05" fill="url(#gp)"/>
<circle cx="440.4" cy="132.3" r="2.05" fill="url(#gp)"/>
<circle cx="448" cy="131.9" r="2.05" fill="url(#gp)"/>
<circle cx="456.3" cy="131" r="2.05" fill="url(#gp)"/>
<circle cx="463.9" cy="129.7" r="2.05" fill="url(#gp)"/>
<circle cx="470.3" cy="128.5" r="2.05" fill="url(#gp)"/>
<circle cx="477.9" cy="127.2" r="2.05" fill="url(#gp)"/>
<circle cx="484.3" cy="125.9" r="2.05" fill="url(#gp)"/>
<circle cx="492.2" cy="124" r="2.05" fill="url(#gp)"/>
<circle cx="500.7" cy="122.4" r="2.05" fill="url(#gp)"/>
<circle cx="507.9" cy="120.4" r="2.05" fill="url(#gp)"/>
<circle cx="514.5" cy="117.8" r="2.05" fill="url(#gp)"/>
<circle cx="520.4" cy="114.5" r="2.05" fill="url(#gp)"/>
<circle cx="524.3" cy="111.9" r="2.05" fill="url(#gp)"/>
<circle cx="527.6" cy="108.6" r="2.05" fill="url(#gp)"/>
<circle cx="530.6" cy="105.4" r="2.05" fill="url(#gp)"/>
<circle cx="532.4" cy="102.1" r="2.05" fill="url(#gp)"/>
<circle cx="534.1" cy="98.2" r="2.05" fill="url(#gp)"/>
<circle cx="535.4" cy="94.2" r="2.05" fill="url(#gp)"/>
<circle cx="536.5" cy="90.3" r="2.05" fill="url(#gp)"/>
<circle cx="537.4" cy="86.4" r="2.05" fill="url(#gp)"/>
<circle cx="538.1" cy="82.4" r="2.05" fill="url(#gp)"/>
<circle cx="537.4" cy="78.9" r="2.05" fill="url(#gp)"/>
<circle cx="536.5" cy="82.4" r="2.05" fill="url(#gp)"/>
<circle cx="535.4" cy="86" r="2.05" fill="url(#gp)"/>
<circle cx="534.1" cy="89.7" r="2.05" fill="url(#gp)"/>
<circle cx="532.8" cy="93.3" r="2.05" fill="url(#gp)"/>
<circle cx="531.1" cy="96.9" r="2.05" fill="url(#gp)"/>
<circle cx="529.3" cy="100.1" r="2.05" fill="url(#gp)"/>
<circle cx="526.9" cy="103.4" r="2.05" fill="url(#gp)"/>
<circle cx="524.3" cy="106.4" r="2.05" fill="url(#gp)"/>
<circle cx="521" cy="109.3" r="2.05" fill="url(#gp)"/>
<circle cx="517.8" cy="111.9" r="2.05" fill="url(#gp)"/>
<circle cx="513.8" cy="114.3" r="2.05" fill="url(#gp)"/>
<circle cx="508.6" cy="116.5" r="2.05" fill="url(#gp)"/>
<circle cx="502" cy="118.7" r="2.05" fill="url(#gp)"/>
<circle cx="496.1" cy="120.4" r="2.05" fill="url(#gp)"/>
<circle cx="489.6" cy="122.4" r="2.05" fill="url(#gp)"/>
<circle cx="482.4" cy="124.3" r="2.05" fill="url(#gp)"/>
<circle cx="474.1" cy="125.3" r="2.05" fill="url(#gp)"/>
<circle cx="465.8" cy="126.5" r="2.05" fill="url(#gp)"/>
<circle cx="458.2" cy="128.5" r="2.05" fill="url(#gp)"/>
<circle cx="451.2" cy="129.1" r="2.05" fill="url(#gp)"/>
<circle cx="444.2" cy="129.7" r="2.05" fill="url(#gp)"/>
<circle cx="437.2" cy="131" r="2.05" fill="url(#gp)"/>
<circle cx="430.4" cy="132.3" r="2.05" fill="url(#gp)"/>
<path d="M314.9,183.4 L327.7,183 L340,182.5 L352.3,182.1 L364.8,181.7 L377,181.3 L393.2,180.5 L405.9,180 L418.1,179.3 L424.5,179 L430.5,178.7 L439.8,178.1 L454.7,177.3 L469.1,176.5 L482.3,175.2 L499.9,173.8 L513.4,171.3 L525.1,166.4 L530.3,164 L534.3,154.5 L535.6,142.8 L536.3,131.1 L536.6,118.4 L537,106.1" fill="none" stroke="#F8A050" stroke-width="0.6" stroke-linejoin="round" stroke-linecap="round" />
<path d="M537,106.1 L534.9,121.9 L533.1,137.6 L530.8,154.2 L528,161 L525.1,166.4 L516.9,170.8 L484,175.2 L442.6,178.1 L409.2,180 L378.9,181.3" fill="none" stroke="#F8A050" stroke-width="0.6" stroke-linejoin="round" stroke-linecap="round" />
<circle cx="314.9" cy="183.4" r="2" fill="url(#go)"/>
<circle cx="327.7" cy="183" r="2" fill="url(#go)"/>
<circle cx="340" cy="182.5" r="2" fill="url(#go)"/>
<circle cx="352.3" cy="182.1" r="2" fill="url(#go)"/>
<circle cx="364.8" cy="181.7" r="2" fill="url(#go)"/>
<circle cx="377" cy="181.3" r="2" fill="url(#go)"/>
<circle cx="393.2" cy="180.5" r="2" fill="url(#go)"/>
<circle cx="405.9" cy="180" r="2" fill="url(#go)"/>
<circle cx="418.1" cy="179.3" r="2" fill="url(#go)"/>
<circle cx="424.5" cy="179" r="2" fill="url(#go)"/>
<circle cx="430.5" cy="178.7" r="2" fill="url(#go)"/>
<circle cx="439.8" cy="178.1" r="2" fill="url(#go)"/>
<circle cx="454.7" cy="177.3" r="2" fill="url(#go)"/>
<circle cx="469.1" cy="176.5" r="2" fill="url(#go)"/>
<circle cx="482.3" cy="175.2" r="2" fill="url(#go)"/>
<circle cx="499.9" cy="173.8" r="2" fill="url(#go)"/>
<circle cx="513.4" cy="171.3" r="2" fill="url(#go)"/>
<circle cx="525.1" cy="166.4" r="2" fill="url(#go)"/>
<circle cx="530.3" cy="164" r="2" fill="url(#go)"/>
<circle cx="534.3" cy="154.5" r="2" fill="url(#go)"/>
<circle cx="535.6" cy="142.8" r="2" fill="url(#go)"/>
<circle cx="536.3" cy="131.1" r="2" fill="url(#go)"/>
<circle cx="536.6" cy="118.4" r="2" fill="url(#go)"/>
<circle cx="537" cy="106.1" r="2" fill="url(#go)"/>
<circle cx="534.9" cy="121.9" r="2" fill="url(#go)"/>
<circle cx="533.1" cy="137.6" r="2" fill="url(#go)"/>
<circle cx="530.8" cy="154.2" r="2" fill="url(#go)"/>
<circle cx="516.9" cy="170.8" r="2" fill="url(#go)"/>
<circle cx="484" cy="175.2" r="2" fill="url(#go)"/>
<circle cx="442.6" cy="178.1" r="2" fill="url(#go)"/>
<circle cx="409.2" cy="180" r="2" fill="url(#go)"/>
<circle cx="378.9" cy="181.3" r="2" fill="url(#go)"/>
<rect x="319.2" y="20.2" width="123.0" height="99.2" fill="#fff" stroke="#555" stroke-width="0.9"/>
<line x1="318.8" y1="119.4" x2="442.6" y2="119.4" stroke="#333" stroke-width="1.2" />
<line x1="319.4" y1="119.4" x2="319.4" y2="120.6" stroke="#555" stroke-width="0.5" />
<text x="319.4" y="126.0" font-size="4.8" text-anchor="middle" fill="#3a5468" font-weight="bold">0</text>
<line x1="339.12" y1="119.4" x2="339.12" y2="120.6" stroke="#555" stroke-width="0.5" />
<text x="339.12" y="126.0" font-size="4.8" text-anchor="middle" fill="#3a5468" font-weight="bold">20</text>
<line x1="358.84" y1="119.4" x2="358.84" y2="120.6" stroke="#555" stroke-width="0.5" />
<text x="358.84" y="126.0" font-size="4.8" text-anchor="middle" fill="#3a5468" font-weight="bold">40</text>
<line x1="378.56" y1="119.4" x2="378.56" y2="120.6" stroke="#555" stroke-width="0.5" />
<text x="378.56" y="126.0" font-size="4.8" text-anchor="middle" fill="#3a5468" font-weight="bold">60</text>
<line x1="398.28" y1="119.4" x2="398.28" y2="120.6" stroke="#555" stroke-width="0.5" />
<text x="398.28" y="126.0" font-size="4.8" text-anchor="middle" fill="#3a5468" font-weight="bold">80</text>
<line x1="418" y1="119.4" x2="418" y2="120.6" stroke="#555" stroke-width="0.5" />
<text x="418" y="126.0" font-size="4.8" text-anchor="middle" fill="#3a5468" font-weight="bold">100</text>
<line x1="437.72" y1="119.4" x2="437.72" y2="120.6" stroke="#555" stroke-width="0.5" />
<text x="437.72" y="126.0" font-size="4.8" text-anchor="middle" fill="#3a5468" font-weight="bold">120</text>
<text x="380.8" y="135.3" font-size="5" text-anchor="middle" fill="#222" font-weight="bold">D(nm)</text>
<text transform="translate(313.4,69.2) rotate(-90)" font-size="4.6" text-anchor="middle" fill="#222" font-weight="bold" textLength="22.6" lengthAdjust="spacingAndGlyphs">dV/dlog(D)</text>
<path d="M323,40.2 L323,50 L323.1,60 L323.1,70 L323,80.4 L322.2,83.2 L321.5,87 L323.9,89.1 L328.2,91.2 L334.3,92.1 L341,92.5 L349.2,92.6" fill="none" stroke="#C400D6" stroke-width="0.95" stroke-linejoin="round" stroke-linecap="round" />
<circle cx="323" cy="40.2" r="0.8" fill="#C400D6"/>
<circle cx="323" cy="46" r="0.8" fill="#C400D6"/>
<circle cx="323" cy="52" r="0.8" fill="#C400D6"/>
<circle cx="323.1" cy="58" r="0.8" fill="#C400D6"/>
<circle cx="323.1" cy="64" r="0.8" fill="#C400D6"/>
<circle cx="323.1" cy="70" r="0.8" fill="#C400D6"/>
<circle cx="323" cy="75" r="0.8" fill="#C400D6"/>
<circle cx="323" cy="80.4" r="0.8" fill="#C400D6"/>
<circle cx="322.2" cy="83.2" r="0.8" fill="#C400D6"/>
<circle cx="321.5" cy="87" r="0.8" fill="#C400D6"/>
<circle cx="323.9" cy="89.1" r="0.8" fill="#C400D6"/>
<circle cx="328.2" cy="91.2" r="0.8" fill="#C400D6"/>
<circle cx="334.3" cy="92.1" r="0.8" fill="#C400D6"/>
<circle cx="341" cy="92.5" r="0.8" fill="#C400D6"/>
<circle cx="349.2" cy="92.6" r="0.8" fill="#C400D6"/>
<path d="M321.3,98.8 L320.9,103 L321,107.9 L323.9,106.8 L328,107.4 L333.5,107.5 L344.8,106.6 L356,101 L362.5,97.9 L380.9,82.1 L400.4,83 L438.9,101.9" fill="none" stroke="#F8821E" stroke-width="0.95" stroke-linejoin="round" stroke-linecap="round" />
<circle cx="321.3" cy="98.8" r="0.8" fill="#F8821E"/>
<circle cx="320.9" cy="103" r="0.8" fill="#F8821E"/>
<circle cx="321" cy="107.9" r="0.8" fill="#F8821E"/>
<circle cx="323.9" cy="106.8" r="0.8" fill="#F8821E"/>
<circle cx="328" cy="107.4" r="0.8" fill="#F8821E"/>
<circle cx="333.5" cy="107.5" r="0.8" fill="#F8821E"/>
<circle cx="344.8" cy="106.6" r="0.8" fill="#F8821E"/>
<circle cx="356" cy="101" r="0.8" fill="#F8821E"/>
<circle cx="362.5" cy="97.9" r="0.8" fill="#F8821E"/>
<circle cx="380.9" cy="82.1" r="0.8" fill="#F8821E"/>
<circle cx="400.4" cy="83" r="0.8" fill="#F8821E"/>
<circle cx="438.9" cy="101.9" r="0.8" fill="#F8821E"/>
<line x1="322.2" y1="25.5" x2="332" y2="25.5" stroke="#C400D6" stroke-width="0.9" />
<circle cx="327" cy="25.5" r="0.8" fill="#C400D6"/>
<line x1="322.2" y1="32.8" x2="332" y2="32.8" stroke="#F8821E" stroke-width="0.9" />
<circle cx="327" cy="32.8" r="0.8" fill="#F8821E"/>
<text x="334" y="27.1" font-size="4.6" fill="#333" font-weight="bold">ZnFe<tspan dy="1" font-size="3.4">2</tspan><tspan dy="-1">O</tspan><tspan dy="1" font-size="3.4">4</tspan></text>
<text x="334" y="34.4" font-size="4.6" fill="#333" font-weight="bold">ZnO/ZnFe<tspan dy="1" font-size="3.4">2</tspan><tspan dy="-1">O</tspan><tspan dy="1" font-size="3.4">4</tspan></text>
<line x1="465.4" y1="15.9" x2="484" y2="15.9" stroke="#E070F0" stroke-width="0.8" />
<circle cx="474.4" cy="15.9" r="2.35" fill="url(#gp)"/>
<line x1="465.4" y1="29.4" x2="484" y2="29.4" stroke="#F8A050" stroke-width="0.8" />
<circle cx="474.4" cy="29.4" r="2.35" fill="url(#go)"/>
<text x="488.1" y="19.7" font-size="9.4" text-anchor="start" fill="#000" font-weight="bold" textLength="30.3" lengthAdjust="spacingAndGlyphs"  stroke="#000">ZnFe<tspan dy="2.2" font-size="6.6">2</tspan><tspan dy="-2.2">O</tspan><tspan dy="2.2" font-size="6.6">4</tspan></text>
<text x="488.1" y="32.8" font-size="9.4" text-anchor="start" fill="#000" font-weight="bold" textLength="48.4" lengthAdjust="spacingAndGlyphs"  stroke="#000">ZnO/ZnFe<tspan dy="2.2" font-size="6.6">2</tspan><tspan dy="-2.2">O</tspan><tspan dy="2.2" font-size="6.6">4</tspan></text>
<rect x="302.2" y="6.2" width="237.5" height="187.4" fill="none" stroke="#1a1a1a" stroke-width="1.45" />
<line x1="302.2" y1="193.6" x2="302.2" y2="196.6" stroke="#222" stroke-width="1.1" />
<text x="302.2" y="208.6" font-size="10.5" text-anchor="middle" fill="#000" font-weight="bold" textLength="12.4" lengthAdjust="spacingAndGlyphs"  stroke="#000">0.0</text>
<line x1="349.64" y1="193.6" x2="349.64" y2="196.6" stroke="#222" stroke-width="1.1" />
<text x="349.64" y="208.6" font-size="10.5" text-anchor="middle" fill="#000" font-weight="bold" textLength="12.4" lengthAdjust="spacingAndGlyphs"  stroke="#000">0.2</text>
<line x1="397.08" y1="193.6" x2="397.08" y2="196.6" stroke="#222" stroke-width="1.1" />
<text x="397.08" y="208.6" font-size="10.5" text-anchor="middle" fill="#000" font-weight="bold" textLength="12.4" lengthAdjust="spacingAndGlyphs"  stroke="#000">0.4</text>
<line x1="444.52" y1="193.6" x2="444.52" y2="196.6" stroke="#222" stroke-width="1.1" />
<text x="444.52" y="208.6" font-size="10.5" text-anchor="middle" fill="#000" font-weight="bold" textLength="12.4" lengthAdjust="spacingAndGlyphs"  stroke="#000">0.6</text>
<line x1="491.96" y1="193.6" x2="491.96" y2="196.6" stroke="#222" stroke-width="1.1" />
<text x="491.96" y="208.6" font-size="10.5" text-anchor="middle" fill="#000" font-weight="bold" textLength="12.4" lengthAdjust="spacingAndGlyphs"  stroke="#000">0.8</text>
<line x1="539.4" y1="193.6" x2="539.4" y2="196.6" stroke="#222" stroke-width="1.1" />
<text x="539.4" y="208.6" font-size="10.5" text-anchor="middle" fill="#000" font-weight="bold" textLength="12.4" lengthAdjust="spacingAndGlyphs"  stroke="#000">1.0</text>
<text x="374" y="225.7" font-size="9.9" text-anchor="start" fill="#000" font-weight="bold"  stroke="#000">Relative Pressure/P/P<tspan dy="2.2" font-size="6.8">0</tspan></text>
<text transform="translate(290.1,99.65) rotate(-90)" font-size="10.2" text-anchor="middle" font-weight="bold" textLength="137.7" lengthAdjust="spacingAndGlyphs" stroke="#000">Absorbed Volume/cm<tspan dy="-3" font-size="6.8">3</tspan><tspan dy="3">g</tspan><tspan dy="-3" font-size="6.8">&#8722;1</tspan><tspan dy="3">,STP</tspan></text>
<text x="289.2" y="16.3" font-size="9.6" text-anchor="middle" fill="#000" font-weight="bold"  stroke="#000">(b)</text>
<path d="M22.6,338.5 C24.17,338.68 28.8,339.23 32,339.6 C35.2,339.97 38.35,340.3 41.8,340.7 C45.25,341.1 49.07,341.53 52.7,342 C56.33,342.47 60.72,342.97 63.6,343.5 C66.48,344.03 67.82,344.65 70,345.2 C72.18,345.75 74.03,346.25 76.7,346.8 C79.37,347.35 82.72,348.02 86,348.5 C89.28,348.98 92.9,349.35 96.4,349.7 C99.9,350.05 103.37,350.35 107,350.6 C110.63,350.85 113.43,350.92 118.2,351.2 C122.97,351.48 130.3,352.1 135.6,352.3 C140.9,352.5 144.87,352.37 150,352.4 C155.13,352.43 161.4,352.42 166.4,352.5 C171.4,352.58 176.78,352.75 180,352.9 C183.22,353.05 183.7,353.4 185.7,353.4 C187.7,353.4 189.82,353.03 192,352.9 C194.18,352.77 195.8,352.88 198.8,352.6 C201.8,352.32 206.32,351.67 210,351.2 C213.68,350.73 217.57,350.17 220.9,349.8 C224.23,349.43 227.12,349.07 230,349 C232.88,348.93 236.2,349.1 238.2,349.4 C240.2,349.7 240.82,350.07 242,350.8 C243.18,351.53 244.25,352.57 245.3,353.8 C246.35,355.03 247.35,356.47 248.3,358.2 C249.25,359.93 250.18,362.13 251,364.2 C251.82,366.27 252.58,369.13 253.2,370.6 C253.82,372.07 254.18,372.93 254.7,373 C255.22,373.07 255.75,371.97 256.3,371 C256.85,370.03 257.47,368.1 258,367.2 C258.53,366.3 259.03,365.5 259.5,365.6 C259.97,365.7 260.33,366.32 260.8,367.8 C261.27,369.28 261.77,372.67 262.3,374.5 C262.83,376.33 263.48,377.8 264,378.8 C264.52,379.8 265.17,380.22 265.4,380.5" fill="none" stroke="#F8821E" stroke-width="1.45" stroke-linejoin="round" stroke-linecap="round" />
<path d="M22.6,355.55 L22.9,355.24 L23.2,355.54 L23.5,355.29 L23.8,356.02 L24.1,355.56 L24.4,355.63 L24.7,356.2 L25,355.66 L25.3,356.28 L25.6,355.84 L25.9,356.18 L26.2,355.78 L26.5,356.46 L26.8,356.11 L27.1,355.81 L27.4,356.72 L27.7,356.6 L28,355.69 L28.3,355.39 L28.6,356.7 L28.9,355.21 L29.2,357.63 L29.5,356.2 L29.8,355.76 L30.1,356.25 L30.4,355.7 L30.7,356.32 L31,357 L31.3,356.67 L31.6,356.52 L31.9,356.45 L32.2,357.04 L32.5,357.91 L32.8,357.01 L33.1,357.98 L33.4,357.23 L33.7,356.26 L34,356.45 L34.3,358.4 L34.6,357.42 L34.9,357.2 L35.2,357.62 L35.5,358.59 L35.8,357.32 L36.1,357.34 L36.4,357.4 L36.7,356.45 L37,358 L37.3,357.86 L37.6,357.96 L37.9,357.88 L38.2,357.99 L38.5,358.72 L38.8,357.29 L39.1,359.56 L39.4,357.19 L39.7,359.34 L40,357.46 L40.3,359.24 L40.6,357.79 L40.9,357.33 L41.2,358.68 L41.5,359.56 L41.8,359.63 L42.1,359.77 L42.4,360.1 L42.7,357.56 L43,358.52 L43.3,357.81 L43.6,359.67 L43.9,358.87 L44.2,359.74 L44.5,359.93 L44.8,360.55 L45.1,359.7 L45.4,360.3 L45.7,359.44 L46,358.18 L46.3,360.5 L46.6,358.31 L46.9,358.34 L47.2,360.48 L47.5,358.99 L47.5,359.6 C47.83,359.87 48.83,360.53 49.5,361.2 C50.17,361.87 50.58,362.5 51.5,363.6 C52.42,364.7 53.88,366.53 55,367.8 C56.12,369.07 57.2,370.25 58.2,371.2 C59.2,372.15 60.12,372.97 61,373.5 C61.88,374.03 62.5,374.32 63.5,374.4 C64.5,374.48 65.88,374.15 67,374 C68.12,373.85 68.03,373.77 70.2,373.5 C72.37,373.23 76.73,372.72 80,372.4 C83.27,372.08 87.72,371.63 89.8,371.6 C91.88,371.57 91.58,371.75 92.5,372.2 C93.42,372.65 94.45,374.23 95.3,374.3 C96.15,374.37 96.33,373 97.6,372.6 C98.87,372.2 99.17,371.97 102.9,371.9 C106.63,371.83 113.82,372.08 120,372.2 C126.18,372.32 133.33,372.42 140,372.6 C146.67,372.78 155,373.13 160,373.3 C165,373.47 167.42,373.43 170,373.6 C172.58,373.77 174.08,373.57 175.5,374.3 C176.92,375.03 177.58,376.3 178.5,378 C179.42,379.7 180.22,382.67 181,384.5 C181.78,386.33 182.45,388.67 183.2,389 C183.95,389.33 184.67,387.73 185.5,386.5 C186.33,385.27 187.4,382.98 188.2,381.6 C189,380.22 189.5,378.9 190.3,378.2 C191.1,377.5 192.05,377.17 193,377.4 C193.95,377.63 195.13,379.07 196,379.6 C196.87,380.13 197.28,380.53 198.2,380.6 C199.12,380.67 200.67,379.87 201.5,380 C202.33,380.13 202.7,381.48 203.2,381.4 C203.7,381.32 204,380.07 204.5,379.5 C205,378.93 205.28,378.58 206.2,378 C207.12,377.42 208.83,376.48 210,376 C211.17,375.52 212.12,375.05 213.2,375.1 C214.28,375.15 215.52,375.78 216.5,376.3 C217.48,376.82 218.18,378.05 219.1,378.2 C220.02,378.35 221.02,377.5 222,377.2 C222.98,376.9 223.67,376.43 225,376.4 C226.33,376.37 227.8,376.93 230,377 C232.2,377.07 236.12,376.63 238.2,376.8 C240.28,376.97 241.08,377.3 242.5,378 C243.92,378.7 245.48,379.58 246.7,381 C247.92,382.42 248.88,384.08 249.8,386.5 C250.72,388.92 251.52,392.78 252.2,395.5 C252.88,398.22 253.48,401.25 253.9,402.8 C254.32,404.35 254.38,404.73 254.7,404.8 C255.02,404.87 255.38,404.42 255.8,403.2 C256.22,401.98 256.75,399.15 257.2,397.5 C257.65,395.85 258.12,394.15 258.5,393.3 C258.88,392.45 259.13,392.25 259.5,392.4 C259.87,392.55 260.23,392.83 260.7,394.2 C261.17,395.57 261.75,399.13 262.3,400.6 C262.85,402.07 263.48,402.5 264,403 C264.52,403.5 265.17,403.5 265.4,403.6" fill="none" stroke="#C400D6" stroke-width="1.45" stroke-linejoin="round" stroke-linecap="round" />
<rect x="69.6" y="245.1" width="106.9" height="94.00000000000003" fill="#fff" stroke="#6a6a6a" stroke-width="0.8"/>
<line x1="69.2" y1="339.1" x2="176.9" y2="339.1" stroke="#222" stroke-width="1.1" />
<path d="M69.8,279.4 C72.17,279.93 79.23,281.27 84,282.6 C88.77,283.93 94.9,286 98.4,287.4 C101.9,288.8 102.78,289.72 105,291 C107.22,292.28 109.38,294.1 111.7,295.1 C114.02,296.1 117.02,296.8 118.9,297 C120.78,297.2 121.6,296.62 123,296.3 C124.4,295.98 124.98,295.07 127.3,295.1 C129.62,295.13 132.5,296.18 136.9,296.5 C141.3,296.82 150.02,296.58 153.7,297 C157.38,297.42 157,298.12 159,299 C161,299.88 162.82,301.03 165.7,302.3 C168.58,303.57 174.53,305.88 176.3,306.6" fill="none" stroke="#F8821E" stroke-width="1" stroke-linejoin="round" stroke-linecap="round" />
<path d="M69.8,307.1 C78.17,307.58 106.42,309.28 120,310 C133.58,310.72 141.92,311.08 151.3,311.4 C160.68,311.72 172.13,311.82 176.3,311.9" fill="none" stroke="#C400D6" stroke-width="1" stroke-linejoin="round" stroke-linecap="round" />
<rect x="98.4" y="284.7" width="30.1" height="33.2" fill="none" stroke="#FF5050" stroke-width="0.8" stroke-dasharray="2,1.6"/>
<text x="128.6" y="281.2" font-size="4" text-anchor="middle" font-weight="bold">440</text>
<text x="70" y="346.3" font-size="4.4" text-anchor="middle" font-weight="bold" fill="#222">460</text>
<text x="176.6" y="346.3" font-size="4.4" text-anchor="middle" font-weight="bold" fill="#222">420</text>
<line x1="143" y1="251.1" x2="150.8" y2="251.1" stroke="#C400D6" stroke-width="0.8" />
<line x1="143" y1="257.3" x2="150.8" y2="257.3" stroke="#F8821E" stroke-width="0.8" />
<text x="152.4" y="252.5" font-size="3.8" font-weight="bold" fill="#333">ZnFe<tspan dy="0.8" font-size="2.8">2</tspan><tspan dy="-0.8">O</tspan><tspan dy="0.8" font-size="2.8">4</tspan></text>
<text x="152.4" y="258.7" font-size="3.8" font-weight="bold" fill="#333">ZnO/ZnFe<tspan dy="0.8" font-size="2.8">2</tspan><tspan dy="-0.8">O</tspan><tspan dy="0.8" font-size="2.8">4</tspan></text>
<line x1="253.8" y1="366.7" x2="183" y2="304.8" stroke="#F01818" stroke-width="1.1" stroke-dasharray="3.2,2.2"/>
<path d="M180.6,302.6 L187.2,304.9 L183.9,308.4 Z" fill="#F01818"/>
<line x1="255.2" y1="366.7" x2="255.2" y2="410" stroke="#F01818" stroke-width="1.3" stroke-dasharray="1.4,4.0"/>
<text x="59.05" y="385.2" font-size="7.6" text-anchor="middle" fill="#111" font-weight="bold" textLength="13.8" lengthAdjust="spacingAndGlyphs"  stroke="#111">3385</text>
<text x="182.6" y="398.3" font-size="7.9" text-anchor="middle" fill="#111" font-weight="bold" textLength="13" lengthAdjust="spacingAndGlyphs"  stroke="#111">1630</text>
<text x="260.7" y="389.3" font-size="7.4" text-anchor="middle" fill="#111" font-weight="bold" textLength="9.8" lengthAdjust="spacingAndGlyphs"  stroke="#111">440</text>
<text x="244.5" y="412.1" font-size="7.4" text-anchor="middle" fill="#111" font-weight="bold" textLength="9.6" lengthAdjust="spacingAndGlyphs"  stroke="#111">561</text>
<line x1="187.8" y1="242.4" x2="206.8" y2="242.4" stroke="#C400D6" stroke-width="1.5" />
<line x1="187.8" y1="255.3" x2="206.8" y2="255.3" stroke="#F8821E" stroke-width="1.5" />
<text x="212" y="245.8" font-size="9.2" text-anchor="start" fill="#000" font-weight="bold" textLength="30.2" lengthAdjust="spacingAndGlyphs"  stroke="#000">ZnFe<tspan dy="2" font-size="6.4">2</tspan><tspan dy="-2">O</tspan><tspan dy="2" font-size="6.4">4</tspan></text>
<text x="212" y="258.8" font-size="9.2" text-anchor="start" fill="#000" font-weight="bold" textLength="49.2" lengthAdjust="spacingAndGlyphs"  stroke="#000">ZnO/ZnFe<tspan dy="2" font-size="6.4">2</tspan><tspan dy="-2">O</tspan><tspan dy="2" font-size="6.4">4</tspan></text>
<rect x="22.4" y="231.7" width="243.6" height="187.5" fill="none" stroke="#000" stroke-width="1.45" />
<line x1="22.5" y1="419.2" x2="22.5" y2="422.2" stroke="#000" stroke-width="1.1" />
<text x="22.5" y="433.9" font-size="10.5" text-anchor="middle" fill="#000" font-weight="bold" textLength="19.8" lengthAdjust="spacingAndGlyphs"  stroke="#000">4000</text>
<line x1="56.31" y1="419.2" x2="56.31" y2="422.2" stroke="#000" stroke-width="1.1" />
<text x="56.31" y="433.9" font-size="10.5" text-anchor="middle" fill="#000" font-weight="bold" textLength="19.8" lengthAdjust="spacingAndGlyphs"  stroke="#000">3500</text>
<line x1="90.13" y1="419.2" x2="90.13" y2="422.2" stroke="#000" stroke-width="1.1" />
<text x="90.13" y="433.9" font-size="10.5" text-anchor="middle" fill="#000" font-weight="bold" textLength="19.8" lengthAdjust="spacingAndGlyphs"  stroke="#000">3000</text>
<line x1="123.94" y1="419.2" x2="123.94" y2="422.2" stroke="#000" stroke-width="1.1" />
<text x="123.94" y="433.9" font-size="10.5" text-anchor="middle" fill="#000" font-weight="bold" textLength="19.8" lengthAdjust="spacingAndGlyphs"  stroke="#000">2500</text>
<line x1="157.76" y1="419.2" x2="157.76" y2="422.2" stroke="#000" stroke-width="1.1" />
<text x="157.76" y="433.9" font-size="10.5" text-anchor="middle" fill="#000" font-weight="bold" textLength="19.8" lengthAdjust="spacingAndGlyphs"  stroke="#000">2000</text>
<line x1="191.57" y1="419.2" x2="191.57" y2="422.2" stroke="#000" stroke-width="1.1" />
<text x="191.57" y="433.9" font-size="10.5" text-anchor="middle" fill="#000" font-weight="bold" textLength="19.8" lengthAdjust="spacingAndGlyphs"  stroke="#000">1500</text>
<line x1="225.39" y1="419.2" x2="225.39" y2="422.2" stroke="#000" stroke-width="1.1" />
<text x="225.39" y="433.9" font-size="10.5" text-anchor="middle" fill="#000" font-weight="bold" textLength="19.8" lengthAdjust="spacingAndGlyphs"  stroke="#000">1000</text>
<line x1="259.2" y1="419.2" x2="259.2" y2="422.2" stroke="#000" stroke-width="1.1" />
<text x="259.2" y="433.9" font-size="10.5" text-anchor="middle" fill="#000" font-weight="bold" textLength="14.85" lengthAdjust="spacingAndGlyphs"  stroke="#000">500</text>
<text x="102.7" y="452.9" font-size="9.9" text-anchor="start" fill="#000" font-weight="bold"  stroke="#000">Wavenumber/cm<tspan dy="-4" font-size="7.6">&#8722;1</tspan></text>
<text transform="translate(10.8,324.3) rotate(-90)" font-size="10" text-anchor="middle" font-weight="bold" textLength="60.7" lengthAdjust="spacingAndGlyphs" stroke="#000">Intensity/a.u.</text>
<text x="12.2" y="242" font-size="9.6" text-anchor="middle" fill="#000" font-weight="bold"  stroke="#000">(c)</text>
<path d="M302,307.67 L302.5,307.11 L303,306.9 L303.5,306.83 L304,306.25 L304.5,306.17 L305,306.07 L305.5,305.48 L306,305.43 L306.5,305.2 L307,304.89 L307.5,304.7 L308,304.42 L308.5,303.84 L309,303.6 L309.5,303.38 L310,303.12 L310.5,302.41 L311,302.49 L311.5,302.38 L312,302.74 L312.5,302.54 L313,302.5 L313.5,302.46 L314,302.11 L314.5,302.24 L315,302.13 L315.5,302.02 L316,301.62 L316.5,301.46 L317,301.28 L317.5,301.45 L318,301.1 L318.5,300.92 L319,300.81 L319.5,300.72 L320,300.37 L320.5,300.19 L321,300.18 L321.5,299.96 L322,299.51 L322.5,299.15 L323,299.24 L323.5,298.82 L324,298.4 L324.5,297.89 L325,297.65 L325.5,296.86 L326,296.1 L326.5,295.25 L327,294.41 L327.5,293.36 L328,291.85 L328.5,290.36 L329,288.08 L329.5,285.34 L330,282.21 L330.5,278.39 L331,274.22 L331.5,270.09 L332,266.96 L332.5,265.66 L333,266.81 L333.5,269.47 L334,273.72 L334.5,277.68 L335,281.74 L335.5,284.65 L336,287.49 L336.5,289.62 L337,291.44 L337.5,292.57 L338,293.66 L338.5,294.43 L339,295.25 L339.5,295.73 L340,295.8 L340.5,296.09 L341,296.19 L341.5,296.52 L342,296.21 L342.5,296.08 L343,295.7 L343.5,295.55 L344,295.24 L344.5,294.76 L345,294.01 L345.5,293.72 L346,293.26 L346.5,292.58 L347,292.46 L347.5,291.83 L348,291.46 L348.5,291.3 L349,291.06 L349.5,290.89 L350,291 L350.5,290.9 L351,290.97 L351.5,291.08 L352,291.62 L352.5,291.94 L353,292.49 L353.5,292.93 L354,293.34 L354.5,293.94 L355,294.59 L355.5,295.16 L356,296.08 L356.5,296.52 L357,296.88 L357.5,297.56 L358,297.94 L358.5,298.05 L359,298.64 L359.5,298.63 L360,299.11 L360.5,298.8 L361,298.85 L361.5,298.73 L362,298.81 L362.5,298.49 L363,297.99 L363.5,297.3 L364,296.8 L364.5,296.18 L365,295.03 L365.5,294.43 L366,293.28 L366.5,292.11 L367,290.68 L367.5,289.25 L368,287.96 L368.5,286.18 L369,284.79 L369.5,283.41 L370,282.32 L370.5,281.76 L371,280.96 L371.5,281.16 L372,281.32 L372.5,282.24 L373,283.21 L373.5,284.46 L374,285.97 L374.5,287.16 L375,288.82 L375.5,290.4 L376,291.91 L376.5,293.42 L377,294.81 L377.5,295.93 L378,297.09 L378.5,297.95 L379,298.66 L379.5,299.48 L380,300.24 L380.5,300.84 L381,301.15 L381.5,301.58 L382,302.07 L382.5,302.23 L383,302.81 L383.5,302.67 L384,303.17 L384.5,303.28 L385,303.32 L385.5,303.61 L386,303.67 L386.5,303.97 L387,304 L387.5,303.92 L388,304.1 L388.5,304.16 L389,303.91 L389.5,304.28 L390,304.37 L390.5,304.56 L391,304.58 L391.5,304.56 L392,304.63 L392.5,304.98 L393,304.94 L393.5,305.34 L394,305.41 L394.5,305.66 L395,305.59 L395.5,305.68 L396,306.04 L396.5,306.01 L397,305.95 L397.5,306.1 L398,306.1 L398.5,306.25 L399,306.25 L399.5,306.21 L400,306.56 L400.5,306.57 L401,306.56 L401.5,306.39 L402,306.4 L402.5,306.68 L403,306.76 L403.5,306.72 L404,306.56 L404.5,306.82 L405,306.77 L405.5,306.73 L406,306.86 L406.5,306.83 L407,306.95 L407.5,307.02 L408,307.15 L408.5,306.79 L409,307.02 L409.5,307.21 L410,307.11 L410.5,307.1 L411,307.24 L411.5,306.91 L412,307.26 L412.5,307.21 L413,307.22 L413.5,307.12 L414,307.28 L414.5,307.08 L415,307.27 L415.5,307.17 L416,307.48 L416.5,307.43 L417,307.29 L417.5,307.42 L418,307.26 L418.5,307.32 L419,307.15 L419.5,307.45 L420,307.39 L420.5,307.37 L421,307.04 L421.5,307.34 L422,306.94 L422.5,307.14 L423,307.06 L423.5,306.81 L424,306.92 L424.5,307.06 L425,306.88 L425.5,306.68 L426,306.84 L426.5,306.57 L427,306.74 L427.5,306.46 L428,306.26 L428.5,306.59 L429,306.14 L429.5,306.17 L430,306.35 L430.5,306.02 L431,306.17 L431.5,306.28 L432,306.14 L432.5,306.02 L433,306.2 L433.5,306.26 L434,306.2 L434.5,306.29 L435,306.23 L435.5,306.34 L436,306.69 L436.5,306.76 L437,306.41 L437.5,306.56 L438,306.63 L438.5,306.92 L439,306.67 L439.5,306.66 L440,306.9 L440.5,306.61 L441,306.93 L441.5,306.65 L442,306.79 L442.5,306.7 L443,306.38 L443.5,306.58 L444,306.36 L444.5,306.23 L445,306.12 L445.5,306.37 L446,306.28 L446.5,306.12 L447,306.32 L447.5,306 L448,306.06 L448.5,305.86 L449,305.94 L449.5,306.13 L450,305.92 L450.5,305.72 L451,305.72 L451.5,305.86 L452,305.67 L452.5,305.9 L453,305.51 L453.5,305.84 L454,305.71 L454.5,305.78 L455,305.57 L455.5,305.43 L456,305.48 L456.5,305.68 L457,305.43 L457.5,305.49 L458,305.82 L458.5,305.9 L459,305.95 L459.5,306 L460,305.94 L460.5,306.15 L461,306.14 L461.5,306.16 L462,306.18 L462.5,306.09 L463,306.2 L463.5,306.35 L464,306.52 L464.5,306.44 L465,306.89 L465.5,306.78 L466,306.91 L466.5,307.03 L467,306.78 L467.5,307.1 L468,307.15 L468.5,306.86 L469,306.81 L469.5,307.12 L470,307.18 L470.5,307.15 L471,306.99 L471.5,307.08 L472,306.88 L472.5,306.94 L473,307.03 L473.5,307.18 L474,306.89 L474.5,307.27 L475,306.88 L475.5,307.29 L476,306.97 L476.5,307.23 L477,307.24 L477.5,307.3 L478,307.09 L478.5,307.19 L479,307.01 L479.5,307.24 L480,306.93 L480.5,307.27 L481,307.14 L481.5,306.9 L482,307.28 L482.5,307.01 L483,306.89 L483.5,306.98 L484,306.87 L484.5,306.98 L485,307.16 L485.5,307.28 L486,307.12 L486.5,307.21 L487,307.19 L487.5,307.14 L488,306.99 L488.5,306.93 L489,306.88 L489.5,307.05 L490,306.89 L490.5,307.13 L491,306.94 L491.5,307.05 L492,307.03 L492.5,307.06 L493,306.85 L493.5,306.89 L494,307.07 L494.5,306.86 L495,307.06 L495.5,307.19 L496,306.93 L496.5,307.18 L497,307.02 L497.5,307.17 L498,306.98 L498.5,307.08 L499,307.05 L499.5,306.84 L500,306.98 L500.5,307.01 L501,306.96 L501.5,307.04 L502,307.15 L502.5,307.1 L503,307.11 L503.5,306.82 L504,307.07 L504.5,307.03 L505,307.17 L505.5,306.76 L506,306.84 L506.5,307.19 L507,306.93 L507.5,307.08 L508,307.03 L508.5,306.94 L509,306.96 L509.5,307.02 L510,307.2 L510.5,307.01 L511,307.12 L511.5,306.91 L512,307.09 L512.5,307.04 L513,307.1 L513.5,307.17 L514,306.82 L514.5,307.21 L515,307.05 L515.5,306.9 L516,306.99 L516.5,306.83 L517,306.89 L517.5,307.16 L518,307.1 L518.5,307.17 L519,306.86 L519.5,306.84 L520,306.96 L520.5,307.01 L521,307.11 L521.5,306.93 L522,307.12 L522.5,307.06 L523,306.93 L523.5,307.15 L524,306.84 L524.5,307.07 L525,306.89 L525.5,306.83 L526,307.02 L526.5,307.04 L527,307.08 L527.5,306.98 L528,307.23 L528.5,307.16 L529,306.89 L529.5,306.82 L530,307.24 L530.5,307 L531,306.87 L531.5,306.9 L532,307.14 L532.5,306.91 L533,306.99 L533.5,307.13 L534,306.99 L534.5,307.12 L535,307.25 L535.5,307.19 L536,307.11 L536.5,307.11 L537,306.98 L537.5,307.12 L538,307.13 L538.5,307.1 L539,307.06 L539.5,307.18 L540,306.94 L540.5,307.16 L541,307.28 L541.5,306.87 L542,306.96 L542.5,307.29 L543,306.89 L543.5,307.22 L544,307.11 L544.5,306.89 L545,307.14 L545.5,306.87" fill="none" stroke="#F8821E" stroke-width="1.6" stroke-linejoin="round" stroke-linecap="round" />
<path d="M302,350.2 L302.4,349.98 L302.8,350.6 L303.2,350.78 L303.6,350.43 L304,350.79 L304.4,350.75 L304.8,351.27 L305.2,350.85 L305.6,350.83 L306,350.81 L306.4,351.26 L306.8,350.73 L307.2,350.67 L307.6,350.64 L308,350.59 L308.4,350.38 L308.8,350.66 L309.2,350.14 L309.6,350.15 L310,350.33 L310.4,349.81 L310.8,349.67 L311.2,350.04 L311.6,349.56 L312,349.84 L312.4,349.66 L312.8,349.18 L313.2,348.94 L313.6,348.52 L314,348.71 L314.4,347.9 L314.8,347.03 L315.2,345.51 L315.6,342.83 L316,338.62 L316.4,335.99 L316.8,340.32 L317.2,343.61 L317.6,345.01 L318,345.59 L318.4,345.66 L318.8,345.44 L319.2,345.66 L319.6,345.41 L320,344.83 L320.4,344.18 L320.8,344.12 L321.2,343.04 L321.6,342.41 L322,342.1 L322.4,341.61 L322.8,340.71 L323.2,339.41 L323.6,338.53 L324,335.48 L324.4,331.59 L324.8,327.51 L325.2,327.34 L325.6,331.75 L326,335.18 L326.4,338.04 L326.8,339 L327.2,339.41 L327.6,340.27 L328,340.46 L328.4,339.8 L328.8,339.94 L329.2,340.03 L329.6,339.28 L330,338.84 L330.4,338.75 L330.8,338.17 L331.2,338.36 L331.6,338.31 L332,338.64 L332.4,339.02 L332.8,339.17 L333.2,339.96 L333.6,340.41 L334,340.88 L334.4,341.4 L334.8,341.5 L335.2,341.48 L335.6,341.92 L336,341.38 L336.4,340.98 L336.8,341.33 L337.2,340.73 L337.6,340.56 L338,339.9 L338.4,339.24 L338.8,338.85 L339.2,338.85 L339.6,338.38 L340,339.27 L340.4,339.76 L340.8,341.24 L341.2,341.73 L341.6,343.12 L342,343.87 L342.4,344.19 L342.8,344.58 L343.2,344.54 L343.6,344.68 L344,344.43 L344.4,344.44 L344.8,344.36 L345.2,344.67 L345.6,343.99 L346,344.13 L346.4,344.34 L346.8,344.05 L347.2,343.7 L347.6,344.07 L348,343.29 L348.4,343.13 L348.8,342.87 L349.2,343 L349.6,343.14 L350,342.6 L350.4,342.5 L350.8,342.8 L351.2,342.28 L351.6,342.28 L352,342.82 L352.4,342.55 L352.8,343.01 L353.2,342.91 L353.6,343.4 L354,343.73 L354.4,343.62 L354.8,343.69 L355.2,344.15 L355.6,344.43 L356,344.21 L356.4,344.55 L356.8,344.84 L357.2,345.09 L357.6,345.05 L358,345.39 L358.4,345.11 L358.8,345.5 L359.2,344.98 L359.6,344.72 L360,344.41 L360.4,344.21 L360.8,344.03 L361.2,344.26 L361.6,343.72 L362,343.55 L362.4,343.74 L362.8,343.56 L363.2,343.23 L363.6,342.67 L364,342.54 L364.4,342.48 L364.8,342.13 L365.2,342.02 L365.6,341.77 L366,341.65 L366.4,341.89 L366.8,341.68 L367.2,341.5 L367.6,341.46 L368,341.52 L368.4,341.56 L368.8,341.09 L369.2,341.68 L369.6,341.44 L370,341.39 L370.4,341.87 L370.8,341.79 L371.2,341.57 L371.6,341.42 L372,341.79 L372.4,341.89 L372.8,341.96 L373.2,341.9 L373.6,342.38 L374,342.32 L374.4,342.86 L374.8,342.9 L375.2,342.96 L375.6,343.59 L376,343.59 L376.4,343.62 L376.8,344.06 L377.2,344.2 L377.6,344.78 L378,345.43 L378.4,345.76 L378.8,345.86 L379.2,345.81 L379.6,346.15 L380,346.39 L380.4,346.76 L380.8,347.21 L381.2,347.03 L381.6,347.62 L382,347.82 L382.4,348.23 L382.8,348.58 L383.2,348.49 L383.6,348.84 L384,348.8 L384.4,349.09 L384.8,349.36 L385.2,349.07 L385.6,349.5 L386,349.58 L386.4,349.44 L386.8,349.55 L387.2,350.01 L387.6,349.73 L388,349.66 L388.4,349.77 L388.8,349.97 L389.2,349.91 L389.6,349.91 L390,349.92 L390.4,349.88 L390.8,350.11 L391.2,350.22 L391.6,349.91 L392,350.31 L392.4,350.16 L392.8,350.68 L393.2,350.7 L393.6,350.18 L394,350.62 L394.4,350.42 L394.8,350.29 L395.2,350.87 L395.6,350.92 L396,350.87 L396.4,350.79 L396.8,351.06 L397.2,350.79 L397.6,350.9 L398,350.91 L398.4,351.08 L398.8,351.1 L399.2,350.74 L399.6,350.71 L400,350.97 L400.4,351.03 L400.8,350.89 L401.2,351.27 L401.6,351.29 L402,351.21 L402.4,351.13 L402.8,351.27 L403.2,350.94 L403.6,351.4 L404,350.95 L404.4,351.52 L404.8,351.34 L405.2,351.12 L405.6,351.09 L406,351.39 L406.4,351.32 L406.8,351.5 L407.2,351.1 L407.6,351.66 L408,351.37 L408.4,351.39 L408.8,351.61 L409.2,351.53 L409.6,351.43 L410,351.33 L410.4,351.46 L410.8,351.17 L411.2,351.33 L411.6,351.73 L412,351.24 L412.4,351.21 L412.8,351.74 L413.2,351.4 L413.6,351.51 L414,351.54 L414.4,351.62 L414.8,351.32 L415.2,351.63 L415.6,351.07 L416,351.65 L416.4,351.25 L416.8,351.45 L417.2,351.2 L417.6,351.49 L418,351.2 L418.4,351.34 L418.8,351.11 L419.2,351.44 L419.6,351.37 L420,350.94 L420.4,351.3 L420.8,351.4 L421.2,350.87 L421.6,350.81 L422,351.29 L422.4,351.28 L422.8,350.66 L423.2,351.08 L423.6,351.15 L424,350.65 L424.4,350.98 L424.8,350.61 L425.2,350.92 L425.6,350.69 L426,350.63 L426.4,350.35 L426.8,350.69 L427.2,350.69 L427.6,350.37 L428,350.16 L428.4,350.16 L428.8,350.25 L429.2,350.74 L429.6,350.53 L430,350.61 L430.4,350.48 L430.8,350.02 L431.2,350.17 L431.6,350.53 L432,350.43 L432.4,350.5 L432.8,350.35 L433.2,350.25 L433.6,350.26 L434,350.33 L434.4,349.96 L434.8,349.66 L435.2,349.82 L435.6,349.58 L436,349.73 L436.4,349.93 L436.8,349.68 L437.2,349.63 L437.6,349.49 L438,349.64 L438.4,349.72 L438.8,349.74 L439.2,349.96 L439.6,349.31 L440,349.41 L440.4,349.25 L440.8,349.82 L441.2,349.58 L441.6,349.56 L442,349.64 L442.4,349.03 L442.8,349.63 L443.2,349.19 L443.6,349.37 L444,349.17 L444.4,349.37 L444.8,349.03 L445.2,348.97 L445.6,348.91 L446,349.21 L446.4,348.97 L446.8,348.71 L447.2,348.8 L447.6,348.89 L448,348.7 L448.4,348.79 L448.8,348.91 L449.2,348.7 L449.6,348.75 L450,348.33 L450.4,348.66 L450.8,348.64 L451.2,348.28 L451.6,347.85 L452,347.81 L452.4,348.19 L452.8,348.18 L453.2,347.98 L453.6,347.73 L454,347.65 L454.4,347.26 L454.8,347.51 L455.2,347.7 L455.6,347.06 L456,347.27 L456.4,347.38 L456.8,347.18 L457.2,346.93 L457.6,346.82 L458,347.16 L458.4,347.32 L458.8,347.33 L459.2,347.06 L459.6,347.39 L460,347.54 L460.4,347.33 L460.8,347.71 L461.2,347.55 L461.6,347.51 L462,347.45 L462.4,348.03 L462.8,348.12 L463.2,347.7 L463.6,347.79 L464,348.04 L464.4,348.02 L464.8,348.43 L465.2,348.09 L465.6,348.39 L466,348.38 L466.4,348.25 L466.8,348.61 L467.2,348.32 L467.6,348.38 L468,348.48 L468.4,348.3 L468.8,348.15 L469.2,348.69 L469.6,348.56 L470,348.43 L470.4,348.41 L470.8,348.52 L471.2,348.31 L471.6,348.18 L472,348.53 L472.4,348.8 L472.8,348.26 L473.2,348.9 L473.6,348.49 L474,348.95 L474.4,348.82 L474.8,348.49 L475.2,348.47 L475.6,348.97 L476,349.05 L476.4,348.95 L476.8,348.82 L477.2,348.82 L477.6,349.01 L478,349.06 L478.4,349.09 L478.8,348.73 L479.2,349.13 L479.6,349.24 L480,349 L480.4,348.63 L480.8,348.77 L481.2,349.12 L481.6,348.98 L482,349.35 L482.4,349.18 L482.8,349.24 L483.2,348.87 L483.6,349.15 L484,349.3 L484.4,349.47 L484.8,349.47 L485.2,349.04 L485.6,349.23 L486,349.58 L486.4,348.97 L486.8,348.97 L487.2,349.06 L487.6,349.46 L488,349.19 L488.4,349.47 L488.8,349.57 L489.2,349.57 L489.6,349.05 L490,349.51 L490.4,349.6 L490.8,349.55 L491.2,349.67 L491.6,349.65 L492,349.52 L492.4,349.71 L492.8,349.49 L493.2,349.2 L493.6,349.34 L494,349.8 L494.4,349.39 L494.8,349.5 L495.2,349.79 L495.6,349.67 L496,349.76 L496.4,349.54 L496.8,349.58 L497.2,349.29 L497.6,349.39 L498,349.37 L498.4,349.65 L498.8,349.65 L499.2,349.35 L499.6,349.75 L500,349.39 L500.4,349.6 L500.8,349.36 L501.2,349.69 L501.6,349.47 L502,350.04 L502.4,349.65 L502.8,349.99 L503.2,349.73 L503.6,349.67 L504,350.04 L504.4,349.66 L504.8,349.84 L505.2,349.94 L505.6,350.2 L506,350.01 L506.4,349.57 L506.8,349.86 L507.2,350.22 L507.6,350.17 L508,349.84 L508.4,349.69 L508.8,349.8 L509.2,350.15 L509.6,349.76 L510,350.27 L510.4,349.85 L510.8,350.16 L511.2,350.17 L511.6,349.87 L512,350.08 L512.4,350.17 L512.8,349.93 L513.2,350.13 L513.6,350.21 L514,350.45 L514.4,349.99 L514.8,349.93 L515.2,350.18 L515.6,350.25 L516,350.19 L516.4,350.5 L516.8,350.02 L517.2,350.24 L517.6,350.23 L518,350.05 L518.4,350.25 L518.8,350.26 L519.2,350.22 L519.6,350.51 L520,350.67 L520.4,350.67 L520.8,350.16 L521.2,350.28 L521.6,350.7 L522,350.11 L522.4,350.12 L522.8,350.12 L523.2,350.76 L523.6,350.46 L524,350.42 L524.4,350.2 L524.8,350.76 L525.2,350.85 L525.6,350.65 L526,350.82 L526.4,350.59 L526.8,350.43 L527.2,350.35 L527.6,350.45 L528,350.35 L528.4,350.52 L528.8,350.31 L529.2,350.32 L529.6,350.93 L530,350.91 L530.4,350.9 L530.8,350.59 L531.2,350.67 L531.6,350.75 L532,350.93 L532.4,350.61 L532.8,350.77 L533.2,350.81 L533.6,351.02 L534,350.69 L534.4,350.47 L534.8,350.76 L535.2,351.11 L535.6,350.63 L536,350.95 L536.4,350.62 L536.8,350.73 L537.2,350.99 L537.6,350.64 L538,350.9 L538.4,351.01 L538.8,350.88 L539.2,351.15 L539.6,351.23 L540,350.85 L540.4,351.2 L540.8,351.21 L541.2,351.11 L541.6,351.12 L542,351.11 L542.4,351.25 L542.8,351.23 L543.2,350.95 L543.6,351.22 L544,351.28 L544.4,351.12 L544.8,351.44 L545.2,351.04 L545.6,351.22" fill="none" stroke="#C400D6" stroke-width="1.6" stroke-linejoin="round" stroke-linecap="round" />
<path d="M302,404.64 L302.4,404.58 L302.8,404.13 L303.2,404.49 L303.6,403.92 L304,404.22 L304.4,404.07 L304.8,404.2 L305.2,404.26 L305.6,404.27 L306,403.48 L306.4,403.97 L306.8,403.44 L307.2,403.32 L307.6,402.74 L308,403.31 L308.4,402.57 L308.8,402.43 L309.2,402.27 L309.6,402.02 L310,401.88 L310.4,401.7 L310.8,401.73 L311.2,401.4 L311.6,401.58 L312,401.57 L312.4,401.41 L312.8,400.76 L313.2,400.89 L313.6,400.81 L314,400.69 L314.4,400.3 L314.8,400.02 L315.2,400.44 L315.6,400.27 L316,399.92 L316.4,400.14 L316.8,399.54 L317.2,400.13 L317.6,400.17 L318,400.19 L318.4,399.37 L318.8,399.84 L319.2,399.87 L319.6,399.24 L320,399.62 L320.4,399.18 L320.8,399.16 L321.2,398.93 L321.6,399.09 L322,399.53 L322.4,399.23 L322.8,399.34 L323.2,399.42 L323.6,398.61 L324,399.15 L324.4,399.11 L324.8,398.8 L325.2,398.43 L325.6,398.19 L326,398.32 L326.4,398.14 L326.8,397.9 L327.2,398.11 L327.6,397.88 L328,397.29 L328.4,396.86 L328.8,396.65 L329.2,396.1 L329.6,394.96 L330,393.57 L330.4,392.82 L330.8,393.02 L331.2,393.96 L331.6,395.42 L332,396.17 L332.4,396.4 L332.8,396.55 L333.2,396.92 L333.6,397.31 L334,397.35 L334.4,396.89 L334.8,396.97 L335.2,396.33 L335.6,396.44 L336,395.74 L336.4,395.19 L336.8,394.32 L337.2,393.27 L337.6,394.7 L338,394.8 L338.4,396.07 L338.8,396.39 L339.2,395.84 L339.6,395.91 L340,395.7 L340.4,396.22 L340.8,395.8 L341.2,395.6 L341.6,394.89 L342,393.67 L342.4,392.78 L342.8,390.31 L343.2,386.52 L343.6,379.46 L344,367.31 L344.4,357.74 L344.8,367.23 L345.2,379.68 L345.6,387.1 L346,390.65 L346.4,392.78 L346.8,394.28 L347.2,395.16 L347.6,396.13 L348,396.14 L348.4,396.66 L348.8,396.88 L349.2,397.48 L349.6,398.04 L350,397.93 L350.4,398.04 L350.8,398.37 L351.2,398.31 L351.6,397.86 L352,397.8 L352.4,398.09 L352.8,397.8 L353.2,398.12 L353.6,397.63 L354,397.89 L354.4,398.16 L354.8,397.71 L355.2,397.58 L355.6,398.09 L356,397.57 L356.4,398.18 L356.8,397.9 L357.2,398.13 L357.6,397.8 L358,397.76 L358.4,397.56 L358.8,397.39 L359.2,398.21 L359.6,397.57 L360,397.46 L360.4,398.25 L360.8,397.92 L361.2,397.99 L361.6,398.33 L362,398.2 L362.4,397.81 L362.8,397.88 L363.2,398.26 L363.6,398.33 L364,397.97 L364.4,398.05 L364.8,398.34 L365.2,398 L365.6,398.73 L366,398.67 L366.4,398.29 L366.8,398.76 L367.2,398.86 L367.6,398.5 L368,398.91 L368.4,399.33 L368.8,399.13 L369.2,399.48 L369.6,399.14 L370,399.94 L370.4,399.75 L370.8,399.75 L371.2,399.36 L371.6,399.78 L372,399.56 L372.4,400.04 L372.8,399.9 L373.2,400.05 L373.6,400.19 L374,400.13 L374.4,400.34 L374.8,400.62 L375.2,400.36 L375.6,400.83 L376,401.26 L376.4,401.13 L376.8,401.42 L377.2,400.74 L377.6,401.32 L378,401.02 L378.4,401.73 L378.8,401.42 L379.2,401.71 L379.6,401.85 L380,401.36 L380.4,401.42 L380.8,402.16 L381.2,402.26 L381.6,402.02 L382,401.76 L382.4,401.87 L382.8,402.69 L383.2,402.71 L383.6,402.53 L384,402.92 L384.4,403.16 L384.8,402.55 L385.2,403.33 L385.6,403.66 L386,403.67 L386.4,403.79 L386.8,403.5 L387.2,403.75 L387.6,403.4 L388,404.11 L388.4,404.08 L388.8,403.93 L389.2,403.68 L389.6,403.87 L390,404.13 L390.4,404.65 L390.8,404.31 L391.2,404.72 L391.6,404.16 L392,404.27 L392.4,404.31 L392.8,404.4 L393.2,404.91 L393.6,404.57 L394,404.57 L394.4,404.94 L394.8,404.77 L395.2,405.2 L395.6,405.07 L396,405.23 L396.4,404.9 L396.8,404.91 L397.2,404.99 L397.6,405.51 L398,405.5 L398.4,405.19 L398.8,405.15 L399.2,404.8 L399.6,405.53 L400,405.33 L400.4,405.17 L400.8,404.97 L401.2,405.26 L401.6,405.49 L402,405.11 L402.4,405.13 L402.8,405.36 L403.2,405.36 L403.6,404.93 L404,404.99 L404.4,405.28 L404.8,405.58 L405.2,405.28 L405.6,404.93 L406,405.11 L406.4,405.03 L406.8,405.5 L407.2,404.97 L407.6,405.59 L408,404.91 L408.4,404.75 L408.8,404.55 L409.2,404.91 L409.6,404.88 L410,405.06 L410.4,404.91 L410.8,404.75 L411.2,404.27 L411.6,405.02 L412,404.38 L412.4,404.36 L412.8,404.3 L413.2,404.68 L413.6,404.77 L414,404.5 L414.4,404.49 L414.8,404.32 L415.2,404.9 L415.6,405.07 L416,404.61 L416.4,404.79 L416.8,405.31 L417.2,405.34 L417.6,404.89 L418,405.71 L418.4,405.52 L418.8,405.56 L419.2,405.24 L419.6,405.84 L420,405.38 L420.4,405.55 L420.8,405.84 L421.2,405.66 L421.6,404.97 L422,404.79 L422.4,404.69 L422.8,404.41 L423.2,404.88 L423.6,404.35 L424,404.05 L424.4,403.72 L424.8,403.6 L425.2,403.33 L425.6,403.34 L426,402.8 L426.4,402.93 L426.8,402.62 L427.2,402.36 L427.6,401.99 L428,401.22 L428.4,401.22 L428.8,401.41 L429.2,400.83 L429.6,400.9 L430,400.46 L430.4,400.9 L430.8,400.35 L431.2,400.28 L431.6,400.6 L432,399.87 L432.4,399.73 L432.8,400.05 L433.2,400.02 L433.6,399.69 L434,399.92 L434.4,400.26 L434.8,400.37 L435.2,400.43 L435.6,400.36 L436,399.79 L436.4,400.17 L436.8,400.41 L437.2,400.22 L437.6,401.1 L438,400.88 L438.4,401.56 L438.8,401.7 L439.2,401.56 L439.6,401.85 L440,402.14 L440.4,402.08 L440.8,402.04 L441.2,402.5 L441.6,402.37 L442,402.41 L442.4,402.89 L442.8,402.83 L443.2,402.49 L443.6,402.09 L444,402.69 L444.4,402.16 L444.8,401.93 L445.2,402.43 L445.6,402.47 L446,401.78 L446.4,401.94 L446.8,402.15 L447.2,401.72 L447.6,401.48 L448,401.22 L448.4,401.02 L448.8,401.73 L449.2,401.6 L449.6,400.97 L450,401.33 L450.4,400.87 L450.8,401.32 L451.2,400.93 L451.6,401.17 L452,400.97 L452.4,400.51 L452.8,400.89 L453.2,400.92 L453.6,400.31 L454,400.24 L454.4,400.39 L454.8,400.73 L455.2,400.89 L455.6,400.33 L456,400.62 L456.4,400.4 L456.8,399.92 L457.2,399.97 L457.6,400.19 L458,399.7 L458.4,399.54 L458.8,399.55 L459.2,398.83 L459.6,398.92 L460,398.79 L460.4,398.66 L460.8,398.62 L461.2,398.11 L461.6,398.21 L462,398.14 L462.4,397.78 L462.8,398.37 L463.2,398.51 L463.6,398.15 L464,398.03 L464.4,398.01 L464.8,398.1 L465.2,398.06 L465.6,398 L466,398.64 L466.4,398.15 L466.8,398.05 L467.2,398.48 L467.6,397.92 L468,398.26 L468.4,398.46 L468.8,398.71 L469.2,398.25 L469.6,398.01 L470,398.82 L470.4,397.93 L470.8,398.26 L471.2,398.31 L471.6,398.69 L472,398.07 L472.4,397.92 L472.8,397.9 L473.2,397.92 L473.6,397.65 L474,398.26 L474.4,397.85 L474.8,397.98 L475.2,397.5 L475.6,397.79 L476,397.94 L476.4,397.26 L476.8,397.85 L477.2,397.19 L477.6,397.52 L478,397.66 L478.4,397.18 L478.8,397.55 L479.2,397.03 L479.6,397.03 L480,397.44 L480.4,397.12 L480.8,396.61 L481.2,396.68 L481.6,397.03 L482,396.85 L482.4,396.59 L482.8,397.27 L483.2,396.83 L483.6,397.35 L484,396.87 L484.4,396.71 L484.8,396.93 L485.2,397.29 L485.6,397.37 L486,397.07 L486.4,396.8 L486.8,397.06 L487.2,396.83 L487.6,396.93 L488,396.62 L488.4,396.65 L488.8,397.48 L489.2,397.35 L489.6,396.9 L490,397.25 L490.4,396.75 L490.8,397.48 L491.2,397.3 L491.6,397.42 L492,397.18 L492.4,397.21 L492.8,397.58 L493.2,397.16 L493.6,396.97 L494,397.03 L494.4,397.78 L494.8,397.23 L495.2,397.07 L495.6,397.55 L496,397.19 L496.4,397.5 L496.8,397.84 L497.2,397.39 L497.6,397.6 L498,398.09 L498.4,398.07 L498.8,398.11 L499.2,397.4 L499.6,398.29 L500,397.96 L500.4,397.63 L500.8,398.43 L501.2,397.69 L501.6,398.52 L502,397.71 L502.4,397.8 L502.8,398.21 L503.2,398.38 L503.6,398.42 L504,398.69 L504.4,398.11 L504.8,398.72 L505.2,398.42 L505.6,399.06 L506,398.83 L506.4,398.95 L506.8,398.52 L507.2,399.29 L507.6,398.8 L508,398.79 L508.4,399.06 L508.8,399.45 L509.2,399.11 L509.6,399.32 L510,399.51 L510.4,399.27 L510.8,399.23 L511.2,399.56 L511.6,399.91 L512,399.96 L512.4,399.61 L512.8,400.09 L513.2,400.33 L513.6,400.28 L514,399.89 L514.4,399.84 L514.8,400.76 L515.2,400.59 L515.6,400.27 L516,400.76 L516.4,400.69 L516.8,400.8 L517.2,400.63 L517.6,400.98 L518,400.79 L518.4,400.86 L518.8,400.87 L519.2,401.31 L519.6,401.48 L520,401.04 L520.4,400.9 L520.8,401.12 L521.2,401.63 L521.6,401.33 L522,401.08 L522.4,401.89 L522.8,401.57 L523.2,401.3 L523.6,401.97 L524,401.81 L524.4,402.17 L524.8,402.21 L525.2,402.25 L525.6,402.36 L526,401.96 L526.4,402.39 L526.8,402.16 L527.2,402.35 L527.6,402.01 L528,402.42 L528.4,401.98 L528.8,402.73 L529.2,402.16 L529.6,402.56 L530,402.85 L530.4,402.88 L530.8,402.95 L531.2,402.6 L531.6,402.32 L532,403.18 L532.4,402.61 L532.8,403.15 L533.2,402.78 L533.6,402.85 L534,402.97 L534.4,403.01 L534.8,403.25 L535.2,403.11 L535.6,402.76 L536,403.12 L536.4,402.75 L536.8,403.46 L537.2,402.87 L537.6,403.06 L538,403.29 L538.4,403.09 L538.8,403.61 L539.2,403.54 L539.6,403.14 L540,403.25 L540.4,403.54 L540.8,403.36 L541.2,403.49 L541.6,403.24 L542,403.47 L542.4,403.5 L542.8,403.8 L543.2,403.32 L543.6,403.75 L544,403.24 L544.4,403.33 L544.8,403.29 L545.2,403.94 L545.6,403.21" fill="none" stroke="#F868C0" stroke-width="1.6" stroke-linejoin="round" stroke-linecap="round" />
<text x="330.3" y="259.4" font-size="7.2" text-anchor="middle" fill="#111" font-weight="bold"  stroke="#111">351</text>
<text x="347.6" y="284.4" font-size="7.2" text-anchor="middle" fill="#111" font-weight="bold"  stroke="#111">458</text>
<text x="370.5" y="276.2" font-size="7.2" text-anchor="middle" fill="#111" font-weight="bold"  stroke="#111">643</text>
<text x="313.4" y="333.1" font-size="7.2" text-anchor="middle" fill="#111" font-weight="bold"  stroke="#111">224</text>
<text x="324.3" y="323.9" font-size="7.2" text-anchor="middle" fill="#111" font-weight="bold"  stroke="#111">290</text>
<text x="350.1" y="339.2" font-size="7.2" text-anchor="middle" fill="#111" font-weight="bold"  stroke="#111">496</text>
<text x="368.7" y="338.6" font-size="7.2" text-anchor="middle" fill="#111" font-weight="bold"  stroke="#111">607</text>
<text x="343.3" y="354.8" font-size="7.2" text-anchor="middle" fill="#111" font-weight="bold"  stroke="#111">441</text>
<text x="325.6" y="389.5" font-size="7.2" text-anchor="middle" fill="#111" font-weight="bold"  stroke="#111">335</text>
<text x="493.8" y="296.5" font-size="8.8" text-anchor="start" fill="#000" font-weight="bold" textLength="50.3" lengthAdjust="spacingAndGlyphs"  stroke="#000">ZnO/ZnFe<tspan dy="1.8" font-size="6">2</tspan><tspan dy="-1.8">O</tspan><tspan dy="1.8" font-size="6">4</tspan></text>
<text x="493.8" y="341.7" font-size="8.8" text-anchor="start" fill="#000" font-weight="bold" textLength="31.4" lengthAdjust="spacingAndGlyphs"  stroke="#000">ZnFe<tspan dy="1.8" font-size="6">2</tspan><tspan dy="-1.8">O</tspan><tspan dy="1.8" font-size="6">4</tspan></text>
<text x="493.8" y="390.8" font-size="8.8" text-anchor="start" fill="#000" font-weight="bold" textLength="16.5" lengthAdjust="spacingAndGlyphs"  stroke="#000">ZnO</text>
<rect x="301.8" y="232.4" width="244.4" height="189.8" fill="none" stroke="#000" stroke-width="1.45" />
<line x1="326.2" y1="422.2" x2="326.2" y2="425.4" stroke="#000" stroke-width="1.1" />
<text x="326.2" y="437.3" font-size="10.5" text-anchor="middle" fill="#000" font-weight="bold" textLength="14.85" lengthAdjust="spacingAndGlyphs"  stroke="#000">300</text>
<line x1="365.06" y1="422.2" x2="365.06" y2="425.4" stroke="#000" stroke-width="1.1" />
<text x="365.06" y="437.3" font-size="10.5" text-anchor="middle" fill="#000" font-weight="bold" textLength="14.85" lengthAdjust="spacingAndGlyphs"  stroke="#000">600</text>
<line x1="403.92" y1="422.2" x2="403.92" y2="425.4" stroke="#000" stroke-width="1.1" />
<text x="403.92" y="437.3" font-size="10.5" text-anchor="middle" fill="#000" font-weight="bold" textLength="14.85" lengthAdjust="spacingAndGlyphs"  stroke="#000">900</text>
<line x1="442.78" y1="422.2" x2="442.78" y2="425.4" stroke="#000" stroke-width="1.1" />
<text x="442.78" y="437.3" font-size="10.5" text-anchor="middle" fill="#000" font-weight="bold" textLength="19.8" lengthAdjust="spacingAndGlyphs"  stroke="#000">1200</text>
<line x1="481.64" y1="422.2" x2="481.64" y2="425.4" stroke="#000" stroke-width="1.1" />
<text x="481.64" y="437.3" font-size="10.5" text-anchor="middle" fill="#000" font-weight="bold" textLength="19.8" lengthAdjust="spacingAndGlyphs"  stroke="#000">1500</text>
<line x1="520.5" y1="422.2" x2="520.5" y2="425.4" stroke="#000" stroke-width="1.1" />
<text x="520.5" y="437.3" font-size="10.5" text-anchor="middle" fill="#000" font-weight="bold" textLength="19.8" lengthAdjust="spacingAndGlyphs"  stroke="#000">1800</text>
<text x="385.5" y="453.8" font-size="9.9" text-anchor="start" fill="#000" font-weight="bold"  stroke="#000">Raman shift/cm<tspan dy="-4" font-size="7.6">&#8722;1</tspan></text>
<text transform="translate(289.7,327.5) rotate(-90)" font-size="10" text-anchor="middle" font-weight="bold" textLength="60.9" lengthAdjust="spacingAndGlyphs" stroke="#000">Intensity/a.u.</text>
<text x="290.3" y="242.3" font-size="9.6" text-anchor="middle" fill="#000" font-weight="bold"  stroke="#000">(d)</text>
</svg>
</body></html>
